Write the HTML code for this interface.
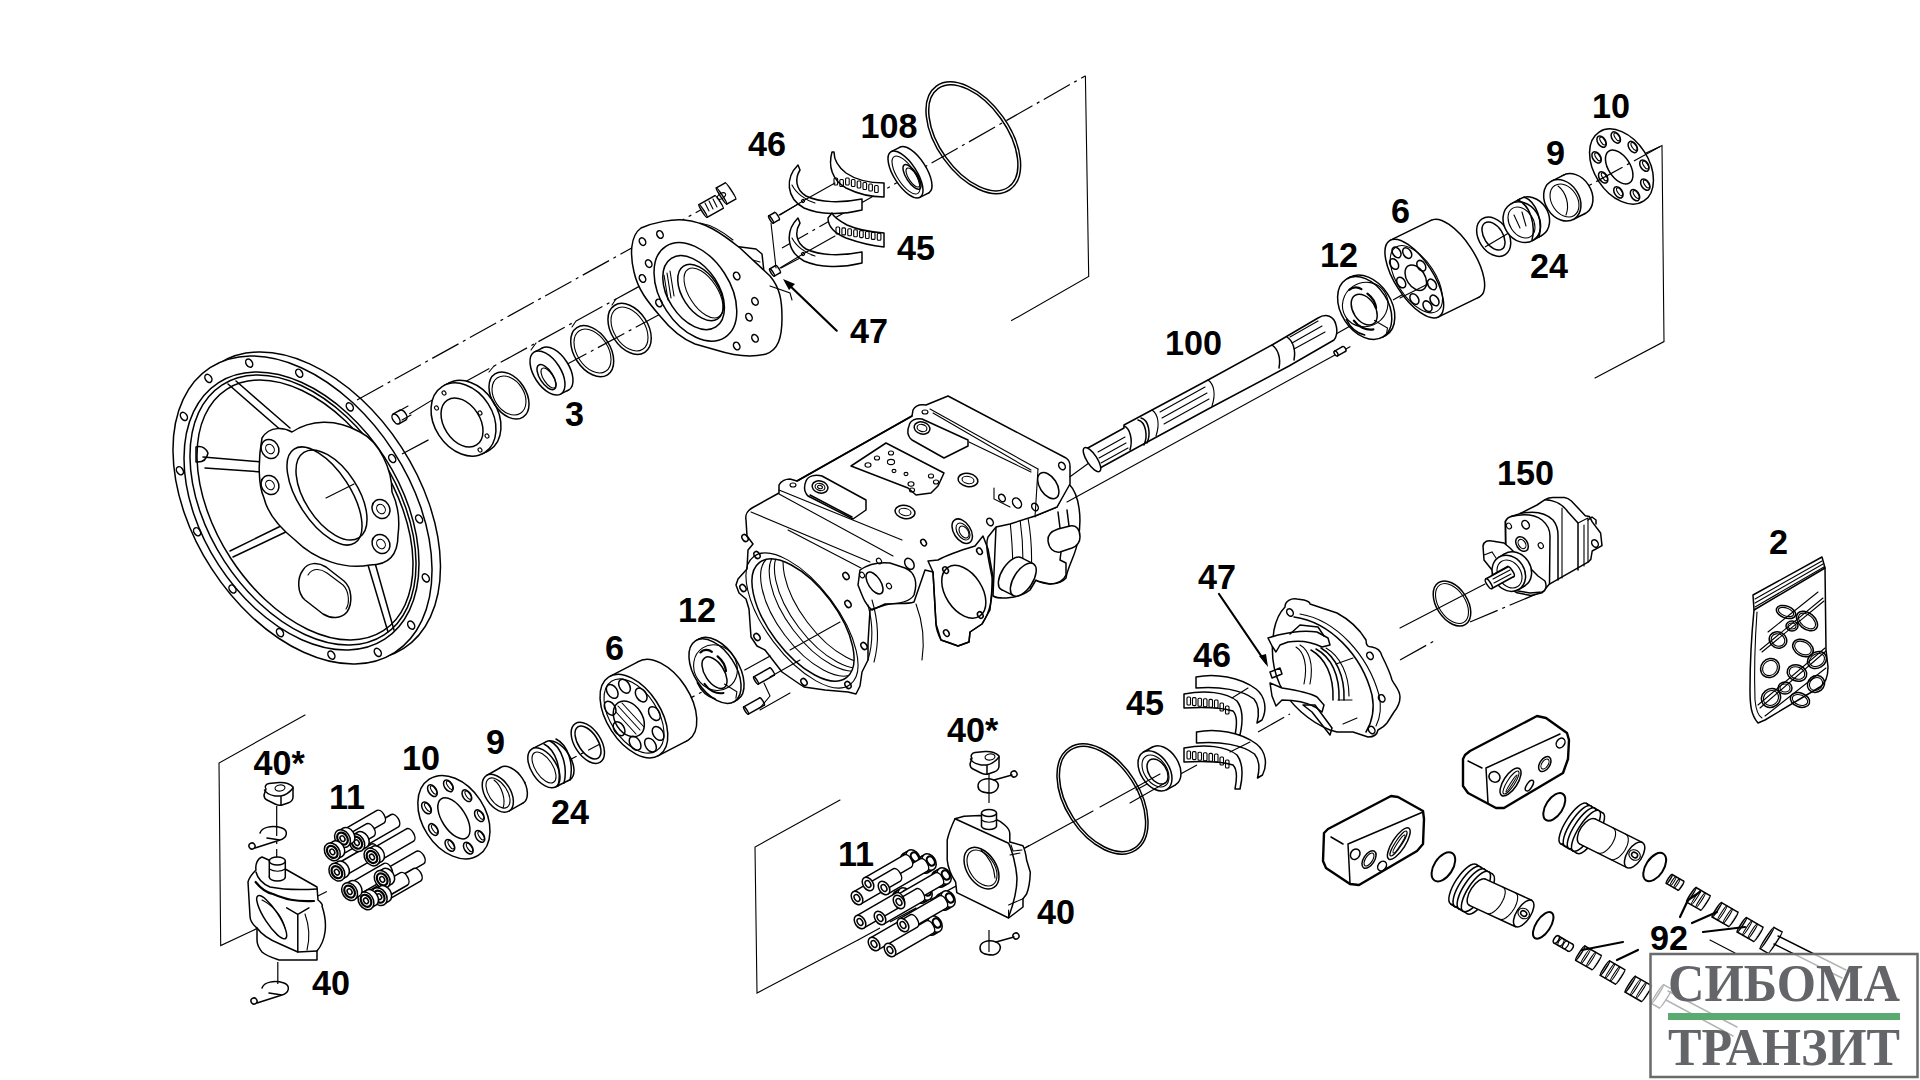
<!DOCTYPE html>
<html><head><meta charset="utf-8"><style>
html,body{margin:0;padding:0;background:#fff;width:1920px;height:1080px;overflow:hidden}
svg{display:block}
.l{font-family:"Liberation Sans",sans-serif;font-weight:bold;font-size:35px;fill:#000}
.s{fill:none;stroke:#000;stroke-width:1.5;stroke-linejoin:round;stroke-linecap:round}
.t{fill:none;stroke:#000;stroke-width:1.1;stroke-linecap:round}
.k{fill:none;stroke:#000;stroke-width:2.2;stroke-linecap:round;stroke-linejoin:round}
.d{fill:none;stroke:#000;stroke-width:1.2;stroke-dasharray:30 5 3 5}
.w{fill:#fff;stroke:#000;stroke-width:1.5;stroke-linejoin:round}
.f{fill:#000;stroke:none}
</style></head><body>
<svg width="1920" height="1080" viewBox="0 0 1920 1080">
<ellipse class="w" cx="311.2" cy="506.0" rx="169.8" ry="107.7" transform="rotate(57.0 311.2 506.0)" />
<ellipse class="w" cx="302.5" cy="510.0" rx="169.7" ry="108.2" transform="rotate(57.0 302.5 510.0)" />
<ellipse class="s" cx="377.8" cy="652.4" rx="4.4" ry="3.1" transform="rotate(57.0 377.8 652.4)" />
<ellipse class="s" cx="331.4" cy="655.1" rx="4.4" ry="3.1" transform="rotate(57.0 331.4 655.1)" />
<ellipse class="s" cx="280.0" cy="632.6" rx="4.4" ry="3.1" transform="rotate(57.0 280.0 632.6)" />
<ellipse class="s" cx="232.5" cy="589.0" rx="4.4" ry="3.1" transform="rotate(57.0 232.5 589.0)" />
<ellipse class="s" cx="197.1" cy="531.7" rx="4.4" ry="3.1" transform="rotate(57.0 197.1 531.7)" />
<ellipse class="s" cx="179.9" cy="470.7" rx="4.4" ry="3.1" transform="rotate(57.0 179.9 470.7)" />
<ellipse class="s" cx="183.9" cy="416.4" rx="4.4" ry="3.1" transform="rotate(57.0 183.9 416.4)" />
<ellipse class="s" cx="208.4" cy="378.4" rx="4.4" ry="3.1" transform="rotate(57.0 208.4 378.4)" />
<ellipse class="s" cx="249.2" cy="363.1" rx="4.4" ry="3.1" transform="rotate(57.0 249.2 363.1)" />
<ellipse class="s" cx="299.2" cy="373.2" rx="4.4" ry="3.1" transform="rotate(57.0 299.2 373.2)" />
<ellipse class="s" cx="349.8" cy="406.9" rx="4.4" ry="3.1" transform="rotate(57.0 349.8 406.9)" />
<ellipse class="s" cx="392.2" cy="458.5" rx="4.4" ry="3.1" transform="rotate(57.0 392.2 458.5)" />
<ellipse class="s" cx="419.1" cy="519.0" rx="4.4" ry="3.1" transform="rotate(57.0 419.1 519.0)" />
<ellipse class="s" cx="425.8" cy="577.9" rx="4.4" ry="3.1" transform="rotate(57.0 425.8 577.9)" />
<ellipse class="s" cx="411.2" cy="625.1" rx="4.4" ry="3.1" transform="rotate(57.0 411.2 625.1)" />
<ellipse class="s" cx="301.5" cy="511.0" rx="152.8" ry="98.9" transform="rotate(57.0 301.5 511.0)" />
<ellipse class="s" cx="303.0" cy="510.0" rx="149.0" ry="93.8" transform="rotate(57.0 303.0 510.0)" />
<ellipse class="s" cx="305.0" cy="510.0" rx="143.9" ry="88.6" transform="rotate(57.0 305.0 510.0)" />
<path class="s" d="M228,384 L283,432 M236,381 L290,428"/>
<path class="s" d="M203,457 L262,462 M205,468 L262,472"/>
<path class="s" d="M230,551 L287,523 M233,557 L290,530"/>
<path class="s" d="M368,565 L388,632 M375,563 L394,630"/>
<path class="s" d="M196,447 q8,-2 12,6 q-2,10 -12,9 z"/>
<path class="w" d="M262,438 C270,425 285,428 292,432 C310,420 335,418 360,432 C380,442 392,470 392,492 C398,505 400,520 398,535 C398,555 388,565 370,565 C345,570 315,560 295,540 C280,528 268,515 264,498 C258,485 258,460 262,438 Z"/>
<ellipse class="w" cx="270.0" cy="449.0" rx="10.0" ry="8.5" transform="rotate(57.0 270.0 449.0)" />
<ellipse class="t" cx="270.0" cy="449.0" rx="5.0" ry="4.0" transform="rotate(57.0 270.0 449.0)" />
<ellipse class="w" cx="270.0" cy="485.0" rx="10.0" ry="8.5" transform="rotate(57.0 270.0 485.0)" />
<ellipse class="t" cx="270.0" cy="485.0" rx="5.0" ry="4.0" transform="rotate(57.0 270.0 485.0)" />
<ellipse class="w" cx="381.0" cy="509.0" rx="10.0" ry="8.5" transform="rotate(57.0 381.0 509.0)" />
<ellipse class="t" cx="381.0" cy="509.0" rx="5.0" ry="4.0" transform="rotate(57.0 381.0 509.0)" />
<ellipse class="w" cx="381.0" cy="544.0" rx="10.0" ry="8.5" transform="rotate(57.0 381.0 544.0)" />
<ellipse class="t" cx="381.0" cy="544.0" rx="5.0" ry="4.0" transform="rotate(57.0 381.0 544.0)" />
<ellipse class="s" cx="324.5" cy="496.0" rx="55.9" ry="26.1" transform="rotate(57.0 324.5 496.0)" />
<ellipse class="s" cx="331.5" cy="495.0" rx="50.8" ry="26.5" transform="rotate(57.0 331.5 495.0)" />
<line class="t" x1="326" y1="498" x2="354" y2="484"/>
<path class="s" d="M303,570 C308,562 318,562 326,567 L344,581 C352,588 353,603 347,612 C341,619 331,619 323,614 L305,600 C297,593 297,578 303,570 Z"/>
<path class="t" d="M308,575 C312,568 320,568 327,573 L343,585 C349,591 350,603 346,609"/>
<path class="d" d="M357,400 L706,207"/>
<path class="d" d="M463,383 L680,264"/>
<path class="d" d="M402,454 L432,438 M560,368 L680,303.5 L706,289 M782,248 L1085,76"/>
<path class="t" d="M409.6,413.7 L444.8,392.4"/>
<path class="t" d="M489,372 L494,366 M531,350 L536,343 M572,327 L576,321 M612,305 L616,299"/>
<ellipse class="w" cx="468.5" cy="417.0" rx="39.2" ry="29.2" transform="rotate(57.0 468.5 417.0)" />
<polygon points="444.3,385.4 449.3,382.9 487.7,451.1 482.7,453.6" fill="#fff" stroke="none"/>
<path class="s" d="M444.3,385.4 L449.3,382.9 M482.7,453.6 L487.7,451.1"/>
<ellipse class="w" cx="463.5" cy="419.5" rx="39.2" ry="29.2" transform="rotate(57.0 463.5 419.5)" />
<ellipse class="s" cx="462.0" cy="422.5" rx="26.8" ry="18.0" transform="rotate(57.0 462.0 422.5)" />
<ellipse class="t" cx="444.0" cy="393.0" rx="2.2" ry="1.8" transform="rotate(57.0 444.0 393.0)" />
<ellipse class="t" cx="436.5" cy="408.0" rx="2.2" ry="1.8" transform="rotate(57.0 436.5 408.0)" />
<ellipse class="t" cx="480.0" cy="413.0" rx="2.2" ry="1.8" transform="rotate(57.0 480.0 413.0)" />
<ellipse class="t" cx="487.0" cy="436.0" rx="2.2" ry="1.8" transform="rotate(57.0 487.0 436.0)" />
<ellipse class="t" cx="480.0" cy="450.0" rx="2.2" ry="1.8" transform="rotate(57.0 480.0 450.0)" />
<ellipse class="w" cx="403.0" cy="415.0" rx="5.6" ry="3.1" transform="rotate(57.0 403.0 415.0)" />
<polygon points="393.0,414.2 400.0,410.2 406.0,419.8 399.0,423.8" fill="#fff" stroke="none"/>
<path class="s" d="M393.0,414.2 L400.0,410.2 M399.0,423.8 L406.0,419.8"/>
<ellipse class="w" cx="396.0" cy="419.0" rx="5.6" ry="3.1" transform="rotate(57.0 396.0 419.0)" />
<path class="t" d="M399,411 L408,406 M402,420 L411,415"/>
<ellipse class="s" cx="509.0" cy="395.5" rx="25.8" ry="17.0" transform="rotate(57.0 509.0 395.5)" />
<ellipse class="t" cx="509.0" cy="395.5" rx="21.1" ry="14.9" transform="rotate(57.0 509.0 395.5)" />
<ellipse class="w" cx="555.5" cy="369.0" rx="24.8" ry="13.3" transform="rotate(57.0 555.5 369.0)" />
<polygon points="534.7,351.8 542.7,347.8 568.3,390.2 560.3,394.2" fill="#fff" stroke="none"/>
<path class="s" d="M534.7,351.8 L542.7,347.8 M560.3,394.2 L568.3,390.2"/>
<ellipse class="w" cx="547.5" cy="373.0" rx="24.8" ry="13.3" transform="rotate(57.0 547.5 373.0)" />
<ellipse class="s" cx="546.5" cy="377.1" rx="14.3" ry="6.5" transform="rotate(57.0 546.5 377.1)" />
<ellipse class="t" cx="548.5" cy="378.0" rx="11.5" ry="4.9" transform="rotate(57.0 548.5 378.0)" />
<ellipse class="s" cx="592.2" cy="351.2" rx="28.1" ry="18.0" transform="rotate(57.0 592.2 351.2)" />
<ellipse class="t" cx="592.5" cy="351.0" rx="24.2" ry="15.5" transform="rotate(57.0 592.5 351.0)" />
<ellipse class="s" cx="629.6" cy="328.9" rx="27.9" ry="18.4" transform="rotate(57.0 629.6 328.9)" />
<ellipse class="t" cx="629.5" cy="329.0" rx="24.2" ry="15.5" transform="rotate(57.0 629.5 329.0)" />
<path class="w" d="M733,246 L756,249 L762,254 L764,272 L758,278 L745,270 Z"/>
<path class="t" d="M745,258 L760,262"/>
<path class="w" d="M641,228 C655,222 672,219 684,220 C705,222 720,232 740,248 L770,276 C780,288 782,300 782,318 C782,338 778,350 766,354 C750,358 735,356 716,350 L695,344 C680,338 668,326 660,316 C648,302 638,290 634,272 C630,255 630,236 641,228 Z"/>
<path class="t" d="M700,223 C712,225 722,231 733,240"/>
<path class="t" d="M770,286 L790,293 L792,300"/>
<ellipse class="s" cx="695.4" cy="291.8" rx="54.3" ry="34.5" transform="rotate(57.0 695.4 291.8)" />
<ellipse class="s" cx="693.6" cy="292.6" rx="40.9" ry="25.4" transform="rotate(57.0 693.6 292.6)" />
<ellipse class="s" cx="700.6" cy="292.5" rx="31.4" ry="18.1" transform="rotate(57.0 700.6 292.5)" />
<ellipse class="t" cx="703.5" cy="293.0" rx="28.3" ry="14.2" transform="rotate(57.0 703.5 293.0)" />
<ellipse class="s" cx="660.0" cy="234.5" rx="4.0" ry="3.0" transform="rotate(62.0 660.0 234.5)" />
<ellipse class="s" cx="642.5" cy="241.6" rx="4.0" ry="3.0" transform="rotate(62.0 642.5 241.6)" />
<ellipse class="s" cx="648.7" cy="263.6" rx="4.0" ry="3.0" transform="rotate(62.0 648.7 263.6)" />
<ellipse class="s" cx="642.5" cy="278.5" rx="4.0" ry="3.0" transform="rotate(62.0 642.5 278.5)" />
<ellipse class="s" cx="659.0" cy="303.0" rx="4.0" ry="3.0" transform="rotate(62.0 659.0 303.0)" />
<ellipse class="s" cx="736.7" cy="276.0" rx="4.0" ry="3.0" transform="rotate(62.0 736.7 276.0)" />
<ellipse class="s" cx="755.0" cy="301.4" rx="4.0" ry="3.0" transform="rotate(62.0 755.0 301.4)" />
<ellipse class="s" cx="749.0" cy="317.2" rx="4.0" ry="3.0" transform="rotate(62.0 749.0 317.2)" />
<ellipse class="s" cx="755.0" cy="338.3" rx="4.0" ry="3.0" transform="rotate(62.0 755.0 338.3)" />
<ellipse class="s" cx="736.7" cy="346.0" rx="4.0" ry="3.0" transform="rotate(62.0 736.7 346.0)" />
<path class="t" d="M664,275 L668,300 M667,273 L671,298 M670,271 L674,296"/>
<ellipse class="w" cx="719.0" cy="202.0" rx="7.5" ry="1.0" transform="rotate(57.0 719.0 202.0)" />
<polygon points="698.9,204.7 714.9,195.7 723.1,208.3 707.1,217.3" fill="#fff" stroke="none"/>
<path class="s" d="M698.9,204.7 L714.9,195.7 M707.1,217.3 L723.1,208.3"/>
<ellipse class="w" cx="703.0" cy="211.0" rx="7.5" ry="1.0" transform="rotate(57.0 703.0 211.0)" />
<path class="t" d="M705,203 l4,8 M709,201 l4,8 M713,199 l4,8"/>
<ellipse class="w" cx="730.5" cy="191.0" rx="9.6" ry="1.0" transform="rotate(57.0 730.5 191.0)" />
<polygon points="716.3,187.9 725.3,182.9 735.7,199.1 726.7,204.1" fill="#fff" stroke="none"/>
<path class="s" d="M716.3,187.9 L725.3,182.9 M726.7,204.1 L735.7,199.1"/>
<ellipse class="w" cx="721.5" cy="196.0" rx="9.6" ry="1.0" transform="rotate(57.0 721.5 196.0)" />
<ellipse class="t" cx="721.5" cy="196.0" rx="2.5" ry="4.5" transform="rotate(57.0 721.5 196.0)" />
<path class="k" d="M836.7,330.7 L786,282"/>
<path class="f" d="M783,279 L795,284 L789,290 Z"/>
<ellipse class="w" cx="777.0" cy="216.1" rx="4.3" ry="1.0" transform="rotate(57.0 777.0 216.1)" />
<polygon points="768.7,215.9 774.7,212.5 779.3,219.7 773.3,223.1" fill="#fff" stroke="none"/>
<path class="s" d="M768.7,215.9 L774.7,212.5 M773.3,223.1 L779.3,219.7"/>
<ellipse class="w" cx="771.0" cy="219.5" rx="4.3" ry="1.0" transform="rotate(57.0 771.0 219.5)" />
<ellipse class="w" cx="778.0" cy="269.1" rx="4.3" ry="1.0" transform="rotate(57.0 778.0 269.1)" />
<polygon points="769.7,268.9 775.7,265.5 780.3,272.7 774.3,276.1" fill="#fff" stroke="none"/>
<path class="s" d="M769.7,268.9 L775.7,265.5 M774.3,276.1 L780.3,272.7"/>
<ellipse class="w" cx="772.0" cy="272.5" rx="4.3" ry="1.0" transform="rotate(57.0 772.0 272.5)" />
<path class="t" d="M779,215 L800,203 M781,268 L800,258 M771,223 L776,268"/>
<path class="w" d="M798,165 C785,178 786,198 804,208 C820,215 842,215 862,210 L862,199 C842,203 820,203 806,196 C795,189 795,178 800,170 Z"/>
<path class="t" d="M792,185 C796,193 805,200 815,203"/>
<ellipse class="t" cx="803.0" cy="201.0" rx="1.5" ry="1.5" transform="rotate(57.0 803.0 201.0)" />
<path class="w" d="M832,152 C828,166 832,180 846,188 C860,195 874,197 884,197 L884,183 C870,183 856,180 846,173 C837,166 834,159 834,152 Z"/>
<rect class="t" x="834.0" y="178.0" width="3.6" height="7" rx="1"/>
<rect class="t" x="839.8" y="179.5" width="3.6" height="7" rx="1"/>
<rect class="t" x="845.6" y="178.0" width="3.6" height="7" rx="1"/>
<rect class="t" x="851.4" y="179.5" width="3.6" height="7" rx="1"/>
<rect class="t" x="857.2" y="181.0" width="3.6" height="7" rx="1"/>
<rect class="t" x="863.0" y="182.5" width="3.6" height="7" rx="1"/>
<rect class="t" x="868.8" y="184.0" width="3.6" height="7" rx="1"/>
<rect class="t" x="874.6" y="185.5" width="3.6" height="7" rx="1"/>
<path class="w" d="M798,218 C785,231 786,251 804,261 C820,268 842,268 862,263 L862,252 C842,256 820,256 806,249 C795,242 795,231 800,223 Z"/>
<path class="t" d="M792,238 C796,246 805,253 815,256"/>
<ellipse class="t" cx="803.0" cy="254.0" rx="1.5" ry="1.5" transform="rotate(57.0 803.0 254.0)" />
<path class="w" d="M828,218 C828,226 834,233 846,238 C860,243 874,246 884,247 L884,233 C870,232 856,229 847,225 C838,220 833,216 832,213 Z"/>
<rect class="t" x="836.0" y="227.0" width="3.6" height="7" rx="1"/>
<rect class="t" x="841.9" y="227.9" width="3.6" height="7" rx="1"/>
<rect class="t" x="847.8" y="228.8" width="3.6" height="7" rx="1"/>
<rect class="t" x="853.7" y="229.7" width="3.6" height="7" rx="1"/>
<rect class="t" x="859.6" y="230.6" width="3.6" height="7" rx="1"/>
<rect class="t" x="865.5" y="231.5" width="3.6" height="7" rx="1"/>
<rect class="t" x="871.4" y="232.4" width="3.6" height="7" rx="1"/>
<rect class="t" x="877.3" y="233.3" width="3.6" height="7" rx="1"/>
<path class="t" d="M780,215 L803,201 L835,183 M780,268 L803,254 L835,236"/>
<ellipse class="w" cx="914.5" cy="170.0" rx="27.0" ry="11.3" transform="rotate(57.0 914.5 170.0)" />
<polygon points="891.2,151.6 900.2,147.1 928.8,192.9 919.8,197.4" fill="#fff" stroke="none"/>
<path class="s" d="M891.2,151.6 L900.2,147.1 M919.8,197.4 L928.8,192.9"/>
<ellipse class="w" cx="905.5" cy="174.5" rx="27.0" ry="11.3" transform="rotate(57.0 905.5 174.5)" />
<ellipse class="t" cx="906.0" cy="175.0" rx="21.9" ry="8.7" transform="rotate(57.0 906.0 175.0)" />
<ellipse class="s" cx="912.0" cy="176.9" rx="14.2" ry="5.5" transform="rotate(57.0 912.0 176.9)" />
<ellipse class="t" cx="913.0" cy="177.5" rx="11.0" ry="4.3" transform="rotate(57.0 913.0 177.5)" />
<ellipse class="s" cx="973.3" cy="137.8" rx="63.5" ry="36.3" transform="rotate(54.4 973.3 137.8)" />
<ellipse class="s" cx="973.3" cy="137.8" rx="60.5" ry="33.6" transform="rotate(54.4 973.3 137.8)" />
<path class="t" d="M1085.4,76 L1088.7,276.5 L1011.5,320.6"/>
<path class="w" d="M996,527 C1000,522 1010,520 1035,516 L1057,507 L1069,484 C1080,495 1082,520 1078,540 C1076,555 1068,565 1066,578 C1060,585 1045,586 1036,580 L1030,590 C1020,598 1000,600 993,596 Z"/>
<path class="t" d="M1010,521 C1012,540 1014,560 1012,580 M1020,519 C1023,540 1024,560 1022,585 M1028,518 C1032,540 1033,560 1030,588"/>
<ellipse class="w" cx="1011.3" cy="573.6" rx="18.8" ry="9.4" transform="rotate(-57.0 1011.3 573.6)" />
<polygon points="1013.6,595.6 1001.6,589.6 1021.1,557.6 1033.1,563.6" fill="#fff" stroke="none"/>
<path class="s" d="M1013.6,595.6 L1001.6,589.6 M1033.1,563.6 L1021.1,557.6"/>
<ellipse class="w" cx="1023.3" cy="579.6" rx="18.8" ry="9.4" transform="rotate(-57.0 1023.3 579.6)" />
<path class="w" d="M1048,541 C1047,534 1052,531 1058,529 L1070,526 C1077,525 1080,530 1080,537 C1080,543 1077,546 1072,548 L1060,552 C1053,553 1049,548 1048,541 Z"/>
<path class="s" d="M1060,528 L1058,512 M1069,526 L1067,510 M1061,552 L1060,560 L1066,563 L1066,575 C1064,580 1058,584 1050,584 L1037,581"/>
<path class="w" d="M746,520 C745,514 747,511 752,508 L779,493 L779,485 C781,481 786,479 790,479 L797,481 L912,416 L913,410
C915,406 920,404 926,405 L948,396 L1066,458 C1069,460 1070,462 1070,466 L1070,484 L1057,507 L1035,516
L1010,524 L996,527 L988,537 C985,545 988,556 992,577 C993,600 990,612 982,624 L970,632 L969,642 L958,646
L950,643 L941,640 C938,634 936,628 936,624 L933,572 L925,570 L914,602 C905,605 897,602 885,605 L870,610
L868,643 L868,660 L862,672 L860,686 L856,694 L848,692 L825,690 L804,687 L798,683 L782,672 L765,650 L757,646
L751,637 L749,609 L746,599 L739,593 L736,585 L738,579 L747,569 L748,550 L753,544 L747,536 Z"/>
<path class="t" d="M751,512 L870,562 M779,490 L902,540 M779,494 L893,556"/>
<path class="s" d="M797,481 L912,416"/>
<path class="t" d="M930,409 L1038,469 M933,413 L1031,470 M969,442 L1031,472"/>
<path class="s" d="M851,466 L886,443 L944,473 L938,486 L931,493 L916,495 L908,488 Z"/>
<ellipse class="t" cx="868.0" cy="465.0" rx="3.0" ry="2.2" transform="rotate(0.0 868.0 465.0)" />
<ellipse class="t" cx="877.0" cy="458.0" rx="2.6" ry="2.0" transform="rotate(0.0 877.0 458.0)" />
<ellipse class="t" cx="891.0" cy="453.0" rx="2.6" ry="2.0" transform="rotate(0.0 891.0 453.0)" />
<ellipse class="t" cx="891.0" cy="462.0" rx="3.6" ry="2.6" transform="rotate(0.0 891.0 462.0)" />
<ellipse class="t" cx="894.0" cy="471.0" rx="2.0" ry="1.6" transform="rotate(0.0 894.0 471.0)" />
<ellipse class="t" cx="906.0" cy="474.0" rx="2.0" ry="1.6" transform="rotate(0.0 906.0 474.0)" />
<ellipse class="t" cx="911.0" cy="484.0" rx="3.0" ry="2.2" transform="rotate(0.0 911.0 484.0)" />
<ellipse class="t" cx="912.0" cy="490.0" rx="2.6" ry="2.0" transform="rotate(0.0 912.0 490.0)" />
<ellipse class="t" cx="931.0" cy="476.0" rx="2.6" ry="2.0" transform="rotate(0.0 931.0 476.0)" />
<ellipse class="t" cx="936.0" cy="482.0" rx="2.6" ry="2.0" transform="rotate(0.0 936.0 482.0)" />
<path class="s" d="M806,481 C808,476 815,474 822,476 L866,500 L866,510 L853,519 L808,496 C804,492 804,486 806,481 Z"/>
<path class="s" d="M810,495 L852,517"/>
<ellipse class="s" cx="820.0" cy="487.0" rx="8.0" ry="6.0" transform="rotate(15.0 820.0 487.0)" />
<ellipse class="t" cx="820.0" cy="487.0" rx="5.0" ry="3.5" transform="rotate(15.0 820.0 487.0)" />
<ellipse class="t" cx="820.0" cy="487.0" rx="2.5" ry="1.6" transform="rotate(15.0 820.0 487.0)" />
<path class="s" d="M909,426 C910,420 916,418 922,419 L968,440 L968,446 L944,458 L912,440 C907,436 907,430 909,426 Z"/>
<ellipse class="s" cx="922.0" cy="428.0" rx="8.0" ry="6.0" transform="rotate(15.0 922.0 428.0)" />
<ellipse class="t" cx="922.0" cy="428.0" rx="5.0" ry="3.5" transform="rotate(15.0 922.0 428.0)" />
<ellipse class="t" cx="793.0" cy="485.0" rx="3.0" ry="2.0" transform="rotate(0.0 793.0 485.0)" />
<ellipse class="t" cx="925.0" cy="412.0" rx="3.0" ry="2.0" transform="rotate(0.0 925.0 412.0)" />
<ellipse class="s" cx="968.0" cy="480.0" rx="10.0" ry="6.5" transform="rotate(10.0 968.0 480.0)" />
<ellipse class="t" cx="968.0" cy="480.0" rx="6.0" ry="3.5" transform="rotate(10.0 968.0 480.0)" />
<ellipse class="s" cx="905.0" cy="512.0" rx="10.0" ry="6.5" transform="rotate(10.0 905.0 512.0)" />
<ellipse class="t" cx="905.0" cy="512.0" rx="6.0" ry="3.5" transform="rotate(10.0 905.0 512.0)" />
<ellipse class="s" cx="1048.3" cy="485.6" rx="14.5" ry="8.5" transform="rotate(57.0 1048.3 485.6)" />
<ellipse class="s" cx="1062.0" cy="466.0" rx="4.0" ry="3.0" transform="rotate(57.0 1062.0 466.0)" />
<ellipse class="s" cx="1002.0" cy="498.0" rx="4.0" ry="3.0" transform="rotate(57.0 1002.0 498.0)" />
<ellipse class="s" cx="1017.0" cy="503.0" rx="5.5" ry="4.0" transform="rotate(57.0 1017.0 503.0)" />
<ellipse class="s" cx="1035.0" cy="507.0" rx="4.0" ry="3.0" transform="rotate(57.0 1035.0 507.0)" />
<ellipse class="s" cx="990.0" cy="522.0" rx="4.0" ry="3.0" transform="rotate(57.0 990.0 522.0)" />
<path class="t" d="M1038,469 L1035,517 M994,488 L994,499 L1010,507"/>
<ellipse class="s" cx="962.2" cy="531.2" rx="13.6" ry="8.4" transform="rotate(57.0 962.2 531.2)" />
<ellipse class="t" cx="963.0" cy="531.5" rx="9.4" ry="5.7" transform="rotate(57.0 963.0 531.5)" />
<ellipse class="t" cx="964.0" cy="532.0" rx="6.6" ry="4.1" transform="rotate(57.0 964.0 532.0)" />
<path class="s" d="M860,570 C870,563 880,562 890,563 L905,568 C915,572 918,582 914,595 C910,602 900,604 885,604 L872,610 C865,605 862,595 858,585 Z"/>
<ellipse class="s" cx="874.5" cy="583.0" rx="12.5" ry="6.1" transform="rotate(57.0 874.5 583.0)" />
<ellipse class="t" cx="862.0" cy="575.0" rx="3.0" ry="2.3" transform="rotate(57.0 862.0 575.0)" />
<ellipse class="t" cx="889.0" cy="586.0" rx="3.0" ry="2.3" transform="rotate(57.0 889.0 586.0)" />
<ellipse class="t" cx="879.0" cy="561.0" rx="3.0" ry="2.3" transform="rotate(57.0 879.0 561.0)" />
<path class="s" d="M928,561 L938,560 C945,556 955,552 975,546 L983,536 L988,549 L993,577 L990,610 L982,624 L970,632 L969,642 L958,646 L941,640 L936,624 L933,572 Z"/>
<ellipse class="s" cx="963.8" cy="591.8" rx="29.1" ry="18.3" transform="rotate(57.0 963.8 591.8)" />
<ellipse class="s" cx="945.6" cy="570.1" rx="3.5" ry="2.5" transform="rotate(57.0 945.6 570.1)" />
<ellipse class="s" cx="979.5" cy="551.2" rx="3.5" ry="2.5" transform="rotate(57.0 979.5 551.2)" />
<ellipse class="s" cx="980.3" cy="615.0" rx="3.5" ry="2.5" transform="rotate(57.0 980.3 615.0)" />
<ellipse class="s" cx="946.4" cy="633.1" rx="3.5" ry="2.5" transform="rotate(57.0 946.4 633.1)" />
<ellipse class="s" cx="923.6" cy="542.6" rx="3.5" ry="2.5" transform="rotate(57.0 923.6 542.6)" />
<ellipse class="s" cx="909.4" cy="563.8" rx="6.0" ry="4.2" transform="rotate(57.0 909.4 563.8)" />
<clipPath id="cb"><ellipse cx="803.0" cy="620.0" rx="72.1" ry="33.6" transform="rotate(53 803.0 620.0)"/></clipPath>
<g clip-path="url(#cb)">
<ellipse class="t" cx="811.7" cy="615.0" rx="72.1" ry="33.6" transform="rotate(53.0 811.7 615.0)" />
<ellipse class="t" cx="820.3" cy="610.0" rx="72.1" ry="33.6" transform="rotate(53.0 820.3 610.0)" />
<ellipse class="t" cx="825.5" cy="607.0" rx="72.1" ry="33.6" transform="rotate(53.0 825.5 607.0)" />
<ellipse class="t" cx="834.2" cy="602.0" rx="72.1" ry="33.6" transform="rotate(53.0 834.2 602.0)" />
</g>
<ellipse class="s" cx="803.0" cy="620.0" rx="72.1" ry="33.6" transform="rotate(53.0 803.0 620.0)" />
<ellipse class="t" cx="802.0" cy="620.5" rx="80.1" ry="35.6" transform="rotate(53.0 802.0 620.5)" />
<ellipse class="s" cx="757.0" cy="555.0" rx="3.8" ry="2.7" transform="rotate(57.0 757.0 555.0)" />
<ellipse class="s" cx="743.0" cy="588.0" rx="3.8" ry="2.7" transform="rotate(57.0 743.0 588.0)" />
<ellipse class="s" cx="757.0" cy="637.0" rx="3.8" ry="2.7" transform="rotate(57.0 757.0 637.0)" />
<ellipse class="s" cx="804.0" cy="682.0" rx="3.8" ry="2.7" transform="rotate(57.0 804.0 682.0)" />
<ellipse class="s" cx="848.0" cy="685.0" rx="3.8" ry="2.7" transform="rotate(57.0 848.0 685.0)" />
<ellipse class="s" cx="864.0" cy="646.0" rx="3.8" ry="2.7" transform="rotate(57.0 864.0 646.0)" />
<ellipse class="s" cx="848.0" cy="604.0" rx="3.8" ry="2.7" transform="rotate(57.0 848.0 604.0)" />
<ellipse class="s" cx="745.0" cy="538.0" rx="3.8" ry="2.7" transform="rotate(57.0 745.0 538.0)" />
<ellipse class="s" cx="846.0" cy="576.0" rx="3.8" ry="2.7" transform="rotate(57.0 846.0 576.0)" />
<path class="t" d="M868,605 C872,620 874,640 868,660 M872,600 C878,620 880,640 874,662"/>
<path class="t" d="M916,604 C922,620 925,640 922,660"/>
<path class="t" d="M788,530 L861,568"/>
<ellipse class="w" cx="772.0" cy="671.5" rx="4.3" ry="1.0" transform="rotate(57.0 772.0 671.5)" />
<polygon points="753.7,676.9 769.7,667.9 774.3,675.1 758.3,684.1" fill="#fff" stroke="none"/>
<path class="s" d="M753.7,676.9 L769.7,667.9 M758.3,684.1 L774.3,675.1"/>
<ellipse class="w" cx="756.0" cy="680.5" rx="4.3" ry="1.0" transform="rotate(57.0 756.0 680.5)" />
<ellipse class="w" cx="762.0" cy="701.5" rx="4.3" ry="1.0" transform="rotate(57.0 762.0 701.5)" />
<polygon points="743.7,706.9 759.7,697.9 764.3,705.1 748.3,714.1" fill="#fff" stroke="none"/>
<path class="s" d="M743.7,706.9 L759.7,697.9 M748.3,714.1 L764.3,705.1"/>
<ellipse class="w" cx="746.0" cy="710.5" rx="4.3" ry="1.0" transform="rotate(57.0 746.0 710.5)" />
<path class="t" d="M770,677 L800,660 M760,710 L790,693 M764,683 L770,696 L760,708"/>
<path class="t" d="M1067,502 L1350,346.7"/>
<path class="t" d="M1070,476.7 L1093,460"/>
<path class="d" d="M1336,334 L1380,309 M1393,300 L1470,256 M1485,247 L1590,185 L1662,145.6"/>
<path class="w" d="M1086,449 L1124,428 L1124,425 L1152,410 L1208,380 L1272,345 L1318,318 C1326,313 1334,316 1336,325 C1338,332 1336,338 1334,340 L1289,366 L1210,408 L1140,446 L1100,468"/>
<ellipse class="w" cx="1092.0" cy="459.6" rx="14.0" ry="5.1" transform="rotate(57.0 1092.0 459.6)" />
<path class="s" d="M1124,426 C1130,428 1133,440 1130,450 M1138,420 C1146,422 1148,436 1144,445 M1141,418 C1149,420 1151,434 1147,443"/>
<path class="t" d="M1152,410 C1158,414 1160,424 1156,436 M1208,380 C1214,384 1216,394 1212,406"/>
<path class="s" d="M1272,345 C1278,349 1281,358 1279,368 M1287,337 C1293,341 1296,350 1294,360"/>
<path class="t" d="M1098,452 L1125,437 M1099,458 L1126,443 M1101,463 L1128,448"/>
<path class="t" d="M1160,412 L1205,387 M1162,418 L1207,393 M1164,424 L1209,399"/>
<path class="t" d="M1290,337 L1318,321 M1292,343 L1322,326 M1294,349 L1325,332"/>
<ellipse class="w" cx="1344.0" cy="349.0" rx="2.8" ry="1.5" transform="rotate(57.0 1344.0 349.0)" />
<polygon points="1334.5,351.1 1342.5,346.6 1345.5,351.4 1337.5,355.9" fill="#fff" stroke="none"/>
<path class="s" d="M1334.5,351.1 L1342.5,346.6 M1337.5,355.9 L1345.5,351.4"/>
<ellipse class="w" cx="1336.0" cy="353.5" rx="2.8" ry="1.5" transform="rotate(57.0 1336.0 353.5)" />
<ellipse class="w" cx="1367.7" cy="306.4" rx="34.2" ry="23.5" transform="rotate(57.0 1367.7 306.4)" />
<polygon points="1347.3,278.6 1350.3,277.0 1385.1,335.8 1382.1,337.4" fill="#fff" stroke="none"/>
<path class="s" d="M1347.3,278.6 L1350.3,277.0 M1382.1,337.4 L1385.1,335.8"/>
<ellipse class="w" cx="1364.7" cy="308.0" rx="34.2" ry="23.5" transform="rotate(57.0 1364.7 308.0)" />
<ellipse class="t" cx="1365.2" cy="304.5" rx="21.9" ry="23.1" transform="rotate(57.0 1365.2 304.5)" />
<ellipse class="s" cx="1364.2" cy="309.6" rx="16.9" ry="11.0" transform="rotate(57.0 1364.2 309.6)" />
<path class="k" d="M1349.5,289.8 C1352.8,286.6 1358.2,286.6 1361.4,289.2"/>
<path class="k" d="M1367.4,293.6 C1372.3,297.3 1375.5,303.0 1376.1,308.0"/>
<path class="k" d="M1353.9,320.6 C1358.2,326.8 1365.8,330.6 1373.4,329.4"/>
<path class="s" d="M1346.3,319.3 C1350.6,328.1 1357.1,333.1 1364.7,335.0"/>
<path class="t" d="M1374.5,320.6 L1387.5,328.1 L1386.4,334.4"/>
<ellipse class="w" cx="1455.3" cy="258.6" rx="45.3" ry="18.9" transform="rotate(57.0 1455.3 258.6)" />
<polygon points="1390.5,240.2 1431.5,220.2 1479.1,297.1 1438.1,317.1" fill="#fff" stroke="none"/>
<path class="s" d="M1390.5,240.2 L1431.5,220.2 M1438.1,317.1 L1479.1,297.1"/>
<ellipse class="w" cx="1414.3" cy="278.6" rx="45.3" ry="18.9" transform="rotate(57.0 1414.3 278.6)" />
<ellipse class="t" cx="1416.4" cy="279.2" rx="38.1" ry="18.9" transform="rotate(57.0 1416.4 279.2)" />
<ellipse class="s" cx="1415.8" cy="277.7" rx="14.0" ry="9.1" transform="rotate(57.0 1415.8 277.7)" />
<ellipse class="s" cx="1427.5" cy="306.2" rx="5.8" ry="3.9" transform="rotate(57.0 1427.5 306.2)" />
<ellipse class="s" cx="1414.4" cy="299.1" rx="5.8" ry="3.9" transform="rotate(57.0 1414.4 299.1)" />
<ellipse class="s" cx="1401.2" cy="282.5" rx="5.8" ry="3.9" transform="rotate(57.0 1401.2 282.5)" />
<ellipse class="s" cx="1394.1" cy="264.0" rx="5.8" ry="3.9" transform="rotate(57.0 1394.1 264.0)" />
<ellipse class="s" cx="1396.5" cy="252.4" rx="5.8" ry="3.9" transform="rotate(57.0 1396.5 252.4)" />
<ellipse class="s" cx="1407.2" cy="253.1" rx="5.8" ry="3.9" transform="rotate(57.0 1407.2 253.1)" />
<ellipse class="s" cx="1421.3" cy="265.7" rx="5.8" ry="3.9" transform="rotate(57.0 1421.3 265.7)" />
<ellipse class="s" cx="1432.0" cy="284.4" rx="5.8" ry="3.9" transform="rotate(57.0 1432.0 284.4)" />
<ellipse class="s" cx="1434.5" cy="300.4" rx="5.8" ry="3.9" transform="rotate(57.0 1434.5 300.4)" />
<line class="t" x1="1400" y1="298" x2="1428" y2="284"/>
<ellipse class="s" cx="1493.7" cy="236.7" rx="21.3" ry="14.9" transform="rotate(57.0 1493.7 236.7)" />
<ellipse class="s" cx="1493.5" cy="236.0" rx="15.6" ry="9.3" transform="rotate(57.0 1493.5 236.0)" />
<ellipse class="w" cx="1530.8" cy="217.2" rx="21.3" ry="17.6" transform="rotate(57.0 1530.8 217.2)" />
<polygon points="1511.0,203.9 1520.0,198.9 1541.5,235.6 1532.5,240.6" fill="#fff" stroke="none"/>
<path class="s" d="M1511.0,203.9 L1520.0,198.9 M1532.5,240.6 L1541.5,235.6"/>
<ellipse class="w" cx="1521.8" cy="222.2" rx="21.3" ry="17.6" transform="rotate(57.0 1521.8 222.2)" />
<ellipse class="t" cx="1521.5" cy="222.5" rx="16.8" ry="11.8" transform="rotate(57.0 1521.5 222.5)" />
<path class="s" d="M1518,200 C1530,205 1536,225 1532,240 M1524,197 C1537,202 1543,222 1539,237"/>
<path class="t" d="M1514,215 L1520,228 M1522,212 L1526,226"/>
<ellipse class="w" cx="1574.3" cy="194.3" rx="22.1" ry="17.0" transform="rotate(57.0 1574.3 194.3)" />
<polygon points="1551.6,181.1 1563.6,175.1 1585.1,213.5 1573.1,219.5" fill="#fff" stroke="none"/>
<path class="s" d="M1551.6,181.1 L1563.6,175.1 M1573.1,219.5 L1585.1,213.5"/>
<ellipse class="w" cx="1562.3" cy="200.3" rx="22.1" ry="17.0" transform="rotate(57.0 1562.3 200.3)" />
<ellipse class="t" cx="1564.5" cy="200.5" rx="17.8" ry="12.8" transform="rotate(57.0 1564.5 200.5)" />
<path class="t" d="M1558,186 C1566,192 1570,205 1566,215"/>
<ellipse class="s" cx="1621.5" cy="166.5" rx="41.1" ry="27.2" transform="rotate(57.0 1621.5 166.5)" />
<ellipse class="s" cx="1619.2" cy="167.0" rx="19.0" ry="10.8" transform="rotate(57.0 1619.2 167.0)" />
<ellipse class="s" cx="1635.0" cy="195.1" rx="6.2" ry="3.9" transform="rotate(57.0 1635.0 195.1)" />
<ellipse class="t" cx="1636.2" cy="194.5" rx="4.5" ry="2.0" transform="rotate(57.0 1636.2 194.5)" />
<ellipse class="s" cx="1618.4" cy="192.3" rx="6.2" ry="3.9" transform="rotate(57.0 1618.4 192.3)" />
<ellipse class="t" cx="1619.6" cy="191.7" rx="4.5" ry="2.0" transform="rotate(57.0 1619.6 191.7)" />
<ellipse class="s" cx="1603.2" cy="177.4" rx="6.2" ry="3.9" transform="rotate(57.0 1603.2 177.4)" />
<ellipse class="t" cx="1604.4" cy="176.8" rx="4.5" ry="2.0" transform="rotate(57.0 1604.4 176.8)" />
<ellipse class="s" cx="1596.6" cy="157.4" rx="6.2" ry="3.9" transform="rotate(57.0 1596.6 157.4)" />
<ellipse class="t" cx="1597.8" cy="156.8" rx="4.5" ry="2.0" transform="rotate(57.0 1597.8 156.8)" />
<ellipse class="s" cx="1601.6" cy="141.6" rx="6.2" ry="3.9" transform="rotate(57.0 1601.6 141.6)" />
<ellipse class="t" cx="1602.8" cy="141.0" rx="4.5" ry="2.0" transform="rotate(57.0 1602.8 141.0)" />
<ellipse class="s" cx="1615.8" cy="137.5" rx="6.2" ry="3.9" transform="rotate(57.0 1615.8 137.5)" />
<ellipse class="t" cx="1617.0" cy="136.9" rx="4.5" ry="2.0" transform="rotate(57.0 1617.0 136.9)" />
<ellipse class="s" cx="1632.8" cy="147.0" rx="6.2" ry="3.9" transform="rotate(57.0 1632.8 147.0)" />
<ellipse class="t" cx="1634.0" cy="146.4" rx="4.5" ry="2.0" transform="rotate(57.0 1634.0 146.4)" />
<ellipse class="s" cx="1644.4" cy="165.6" rx="6.2" ry="3.9" transform="rotate(57.0 1644.4 165.6)" />
<ellipse class="t" cx="1645.6" cy="165.0" rx="4.5" ry="2.0" transform="rotate(57.0 1645.6 165.0)" />
<ellipse class="s" cx="1645.3" cy="184.6" rx="6.2" ry="3.9" transform="rotate(57.0 1645.3 184.6)" />
<ellipse class="t" cx="1646.5" cy="184.0" rx="4.5" ry="2.0" transform="rotate(57.0 1646.5 184.0)" />
<path class="t" d="M1646,153 L1662,145.6 L1664,341.6 L1595,378"/>
<path class="t" d="M1400,628 L1485,584"/>
<path class="d" d="M1400,660 L1434,641 M1470,622 L1546,590"/>
<path class="d" d="M1175,777 L1197,765 M1258,732 L1290,714"/>
<path class="t" d="M1136,790 L1160,777"/>
<ellipse class="s" cx="1102.5" cy="799.0" rx="61.0" ry="37.1" transform="rotate(57.0 1102.5 799.0)" />
<ellipse class="s" cx="1102.5" cy="799.0" rx="58.5" ry="34.6" transform="rotate(57.0 1102.5 799.0)" />
<ellipse class="w" cx="1164.0" cy="765.9" rx="22.1" ry="14.3" transform="rotate(57.0 1164.0 765.9)" />
<polygon points="1143.5,752.0 1152.5,747.0 1175.5,784.8 1166.5,789.8" fill="#fff" stroke="none"/>
<path class="s" d="M1143.5,752.0 L1152.5,747.0 M1166.5,789.8 L1175.5,784.8"/>
<ellipse class="w" cx="1155.0" cy="770.9" rx="22.1" ry="14.3" transform="rotate(57.0 1155.0 770.9)" />
<ellipse class="t" cx="1155.5" cy="771.0" rx="17.6" ry="11.3" transform="rotate(57.0 1155.5 771.0)" />
<ellipse class="s" cx="1157.5" cy="771.5" rx="13.8" ry="8.8" transform="rotate(57.0 1157.5 771.5)" />
<path class="t" d="M1130,803 L1165,783"/>
<path class="w" d="M1196,677 C1215,673 1240,677 1256,689 C1266,697 1267,710 1262,720 L1257,723 C1259,715 1259,705 1254,699 C1242,690 1220,686 1196,688 Z"/>
<path class="w" d="M1184,694 C1205,690 1226,692 1237,701 C1243,709 1243,722 1240,735 L1235,735 C1237,725 1237,715 1233,711 C1220,707 1202,707 1184,708 Z"/>
<rect class="t" x="1187.0" y="697.0" width="3.5" height="8" rx="1"/>
<rect class="t" x="1192.5" y="697.6" width="3.5" height="8" rx="1"/>
<rect class="t" x="1198.0" y="698.2" width="3.5" height="8" rx="1"/>
<rect class="t" x="1203.5" y="698.8" width="3.5" height="8" rx="1"/>
<rect class="t" x="1209.0" y="699.4" width="3.5" height="8" rx="1"/>
<rect class="t" x="1214.5" y="700.0" width="3.5" height="8" rx="1"/>
<rect class="t" x="1220.0" y="703.0" width="3.5" height="8" rx="1"/>
<rect class="t" x="1225.5" y="706.0" width="3.5" height="8" rx="1"/>
<path class="w" d="M1196.5,732 C1215.5,728 1240.5,732 1256.5,744 C1266.5,752 1267.5,765 1262.5,775 L1257.5,778 C1259.5,770 1259.5,760 1254.5,754 C1242.5,745 1220.5,741 1196.5,743 Z"/>
<path class="w" d="M1184,748 C1205,744 1226,746 1237,755 C1243,763 1243,776 1240,789 L1235,789 C1237,779 1237,769 1233,765 C1220,761 1202,761 1184,762 Z"/>
<rect class="t" x="1187.0" y="751.0" width="3.5" height="8" rx="1"/>
<rect class="t" x="1192.5" y="751.6" width="3.5" height="8" rx="1"/>
<rect class="t" x="1198.0" y="752.2" width="3.5" height="8" rx="1"/>
<rect class="t" x="1203.5" y="752.8" width="3.5" height="8" rx="1"/>
<rect class="t" x="1209.0" y="753.4" width="3.5" height="8" rx="1"/>
<rect class="t" x="1214.5" y="754.0" width="3.5" height="8" rx="1"/>
<rect class="t" x="1220.0" y="757.0" width="3.5" height="8" rx="1"/>
<rect class="t" x="1225.5" y="760.0" width="3.5" height="8" rx="1"/>
<path class="t" d="M1232,698 L1248,688 M1230,752 L1250,742"/>
<path class="w" d="M1285,607 C1285,601 1291,598 1297,599 L1304,600 C1308,601 1310,603 1310,604 L1337,613 C1350,620 1360,630 1366,640
C1366,646 1368,647 1372,647 C1378,648 1381,652 1382,656 C1386,664 1390,672 1392,680 C1395,686 1400,690 1400,697
C1400,703 1398,707 1394,712 L1387,723 C1384,727 1380,729 1378,730 C1377,735 1373,737 1368,737 L1353,732 L1337,732
L1330,730 C1310,722 1290,705 1280,685 C1272,668 1271,648 1274,630 C1276,620 1280,612 1285,607 Z"/>
<path class="s" d="M1294,617 C1330,622 1362,655 1372,695 C1375,710 1372,722 1366,732"/>
<path class="t" d="M1300,614 C1336,620 1368,655 1379,695 C1382,708 1380,718 1376,726"/>
<ellipse class="s" cx="1290.0" cy="612.5" rx="3.9" ry="3.0" transform="rotate(57.0 1290.0 612.5)" />
<ellipse class="s" cx="1370.0" cy="655.8" rx="3.9" ry="3.0" transform="rotate(57.0 1370.0 655.8)" />
<ellipse class="s" cx="1381.7" cy="698.3" rx="3.9" ry="3.0" transform="rotate(57.0 1381.7 698.3)" />
<ellipse class="s" cx="1371.7" cy="730.0" rx="3.9" ry="3.0" transform="rotate(57.0 1371.7 730.0)" />
<path class="w" d="M1268,638 L1278,635 C1290,632 1305,630 1317,632 L1328,638 L1330,645 L1322,647 C1312,642 1300,640 1288,642 L1280,645 L1276,652 L1272,646 Z"/>
<path class="s" d="M1290,634 L1300,625 L1318,627 L1324,636"/>
<path class="t" d="M1296,647 C1304,652 1308,665 1304,684 M1300,645 C1309,650 1314,664 1310,684"/>
<path class="s" d="M1311,650 C1325,658 1334,675 1333,700 M1316,649 C1331,657 1340,675 1339,700 M1321,648 C1336,657 1345,676 1344,700"/>
<path class="t" d="M1326,648 C1340,656 1349,674 1349,696"/>
<path class="w" d="M1270,683 L1282,688 C1295,690 1308,692 1317,697 L1324,705 L1322,712 L1315,707 C1306,702 1293,700 1282,700 L1276,706 L1272,696 Z"/>
<path class="s" d="M1303,705 L1315,705 L1332,728 L1330,735 L1312,712 Z"/>
<path class="t" d="M1336,664 L1353,658 M1338,700 L1352,700 M1343,724 L1357,718"/>
<path class="s" d="M1270,672 L1280,668 L1282,674 L1272,678 Z"/>
<path class="k" d="M1219,594 L1266,663"/>
<path class="f" d="M1268,667 L1259,656 L1266,654 Z"/>
<ellipse class="s" cx="1452.0" cy="603.5" rx="24.9" ry="15.5" transform="rotate(57.0 1452.0 603.5)" />
<ellipse class="t" cx="1452.0" cy="603.5" rx="22.2" ry="13.4" transform="rotate(57.0 1452.0 603.5)" />
<path class="w" d="M1505.4,521.3 C1507,518 1509,517 1511,516.5 L1520,513.6 L1537,505 L1545,499.7 C1548,498 1551,497.6 1553,497.6 L1564.4,497.6 C1567,498 1569,499 1571.4,501 L1585.3,515.7 L1589.4,516.4 L1592.2,521.9 L1600.6,533 L1602,545.6 L1592.2,551 L1590.8,559.4 L1588,562.2 L1549,584.4 L1542,592.8 L1531,595.6 L1517,592.8 L1506,586 Z"/>
<path class="s" d="M1505.4,521.3 L1506,568 M1511,516.5 C1522,514 1534,514 1542,520 C1548,525 1550,530 1550,536 L1549.5,584"/>
<path class="s" d="M1520,513.6 C1532,511 1545,512 1553,520 C1557,525 1558,530 1558,535 L1558,580 M1545,499.7 C1556,500 1564,506 1568,512 L1578,523 L1578,570"/>
<path class="t" d="M1578,523 L1588,518 M1588,518 L1588,562 M1584,525 L1584,566 M1562,508 L1562,578"/>
<ellipse class="s" cx="1595.0" cy="543.5" rx="4.0" ry="3.0" transform="rotate(57.0 1595.0 543.5)" />
<ellipse class="t" cx="1508.9" cy="526.0" rx="3.0" ry="2.4" transform="rotate(57.0 1508.9 526.0)" />
<ellipse class="s" cx="1525.6" cy="524.7" rx="4.5" ry="3.4" transform="rotate(57.0 1525.6 524.7)" />
<ellipse class="t" cx="1540.8" cy="545.6" rx="3.0" ry="2.4" transform="rotate(57.0 1540.8 545.6)" />
<path class="s" d="M1588,520 L1592,517 L1596,520 L1596,524"/>
<path class="w" d="M1483,546 C1484,541 1488,540 1492,541 L1504,543 L1510,548 L1514,552 L1538,576 L1545,581 C1547,586 1546,591 1542,592 L1530,593 L1512,590 L1492,570 L1484,560 Z"/>
<path class="t" d="M1484,555 L1492,552 L1496,558"/>
<ellipse class="w" cx="1514.8" cy="569.8" rx="18.9" ry="15.8" transform="rotate(57.0 1514.8 569.8)" />
<polygon points="1499.0,557.2 1505.0,553.7 1524.6,586.0 1518.6,589.5" fill="#fff" stroke="none"/>
<path class="s" d="M1499.0,557.2 L1505.0,553.7 M1518.6,589.5 L1524.6,586.0"/>
<ellipse class="w" cx="1508.8" cy="573.3" rx="18.9" ry="15.8" transform="rotate(57.0 1508.8 573.3)" />
<ellipse class="t" cx="1509.5" cy="574.0" rx="15.0" ry="11.3" transform="rotate(57.0 1509.5 574.0)" />
<ellipse class="w" cx="1522.0" cy="544.0" rx="8.0" ry="5.5" transform="rotate(57.0 1522.0 544.0)" />
<ellipse class="t" cx="1522.0" cy="544.0" rx="5.0" ry="3.4" transform="rotate(57.0 1522.0 544.0)" />
<ellipse class="w" cx="1510.8" cy="571.8" rx="5.7" ry="1.9" transform="rotate(57.0 1510.8 571.8)" />
<polygon points="1485.7,579.0 1507.7,567.0 1513.8,576.5 1491.8,588.5" fill="#fff" stroke="none"/>
<path class="s" d="M1485.7,579.0 L1507.7,567.0 M1491.8,588.5 L1513.8,576.5"/>
<ellipse class="w" cx="1488.8" cy="583.8" rx="5.7" ry="1.9" transform="rotate(57.0 1488.8 583.8)" />
<path class="t" d="M1492,575 L1508,566 M1493,579 L1510,570 M1494,583 L1511,574"/>
<path class="s" d="M1753,595 L1822,557 L1825,568 L1754,610 Z"/>
<path class="t" d="M1755,599 L1822,561 M1755,603 L1823,564 M1755,607 L1824,567"/>
<path class="s" d="M1754,610 C1752,630 1750,660 1750,690 C1750,705 1751,715 1758,723 L1765,720 L1820,687 C1826,683 1828,675 1828,667 L1826,650 L1825,568"/>
<path class="t" d="M1757,612 C1755,640 1754,670 1755,700 C1756,710 1758,716 1762,718"/>
<ellipse class="s" cx="1786.0" cy="612.0" rx="10.0" ry="6.0" transform="rotate(20.0 1786.0 612.0)" />
<ellipse class="t" cx="1786.0" cy="612.0" rx="8.0" ry="4.0" transform="rotate(20.0 1786.0 612.0)" />
<ellipse class="s" cx="1807.0" cy="621.0" rx="12.0" ry="8.0" transform="rotate(40.0 1807.0 621.0)" />
<ellipse class="t" cx="1807.0" cy="621.0" rx="10.0" ry="6.0" transform="rotate(40.0 1807.0 621.0)" />
<ellipse class="s" cx="1778.0" cy="640.0" rx="9.0" ry="8.0" transform="rotate(30.0 1778.0 640.0)" />
<ellipse class="t" cx="1778.0" cy="640.0" rx="7.0" ry="6.0" transform="rotate(30.0 1778.0 640.0)" />
<ellipse class="s" cx="1803.0" cy="648.0" rx="11.0" ry="8.0" transform="rotate(30.0 1803.0 648.0)" />
<ellipse class="t" cx="1803.0" cy="648.0" rx="9.0" ry="6.0" transform="rotate(30.0 1803.0 648.0)" />
<ellipse class="s" cx="1770.0" cy="668.0" rx="9.0" ry="10.0" transform="rotate(40.0 1770.0 668.0)" />
<ellipse class="t" cx="1770.0" cy="668.0" rx="7.0" ry="8.0" transform="rotate(40.0 1770.0 668.0)" />
<ellipse class="s" cx="1797.0" cy="673.0" rx="10.0" ry="8.0" transform="rotate(20.0 1797.0 673.0)" />
<ellipse class="t" cx="1797.0" cy="673.0" rx="8.0" ry="6.0" transform="rotate(20.0 1797.0 673.0)" />
<ellipse class="s" cx="1817.0" cy="660.0" rx="8.0" ry="10.0" transform="rotate(60.0 1817.0 660.0)" />
<ellipse class="t" cx="1817.0" cy="660.0" rx="6.0" ry="8.0" transform="rotate(60.0 1817.0 660.0)" />
<ellipse class="s" cx="1771.0" cy="698.0" rx="9.0" ry="10.0" transform="rotate(50.0 1771.0 698.0)" />
<ellipse class="t" cx="1771.0" cy="698.0" rx="7.0" ry="8.0" transform="rotate(50.0 1771.0 698.0)" />
<ellipse class="s" cx="1800.0" cy="700.0" rx="10.0" ry="7.0" transform="rotate(20.0 1800.0 700.0)" />
<ellipse class="t" cx="1800.0" cy="700.0" rx="8.0" ry="5.0" transform="rotate(20.0 1800.0 700.0)" />
<ellipse class="s" cx="1816.0" cy="684.0" rx="8.0" ry="9.0" transform="rotate(50.0 1816.0 684.0)" />
<ellipse class="t" cx="1816.0" cy="684.0" rx="6.0" ry="7.0" transform="rotate(50.0 1816.0 684.0)" />
<ellipse class="s" cx="1785.0" cy="688.0" rx="7.0" ry="6.0" transform="rotate(0.0 1785.0 688.0)" />
<ellipse class="t" cx="1785.0" cy="688.0" rx="5.0" ry="4.0" transform="rotate(0.0 1785.0 688.0)" />
<ellipse class="s" cx="1792.0" cy="626.0" rx="6.0" ry="5.0" transform="rotate(0.0 1792.0 626.0)" />
<ellipse class="t" cx="1792.0" cy="626.0" rx="4.0" ry="3.0" transform="rotate(0.0 1792.0 626.0)" />
<path class="t" d="M1760,650 L1823,598 M1758,705 L1825,648 M1765,716 L1826,668 M1768,632 L1818,592"/>
<path class="t" d="M1762,652 L1824,601 M1760,708 L1826,651"/>
<path class="t" d="M305,715 L219,763 L220.7,945.6 L254,930"/>
<path class="d" d="M254,930 L290,910 M300,905 L330,890"/>
<path class="d" d="M430,832 L468,812 M492,800 L530,780 M550,770 L600,744 M630,730 L700,693 L741,672 L772,655"/>
<path class="t" d="M790,650 L840,622"/>
<path class="w" d="M266,789 C264,787 266,784 269,783.5 L279,782.5 C285,782 291,784 293,787 L293,797 C293,800 291,802 288,803 L282,805 C279,806 277,805 275,804 L267,800 C265,799 264,797 264,795 Z"/>
<path class="s" d="M264.5,790 C266,793 270,795 275,796 L281,796 C286,795 290,792 293,788 M281,796 L281,805"/>
<ellipse class="t" cx="280.0" cy="788.0" rx="5.0" ry="3.0" transform="rotate(-10.0 280.0 788.0)" />
<path class="d" d="M276.7,806 L276.7,858"/>
<path class="d" d="M277.8,962 L277.8,984"/>
<path class="s" d="M260,833 C262,827 272,825 282,828 C289,831 287,838 280,840 L267,838 M280,840 L255,848"/>
<ellipse class="s" cx="252.0" cy="846.0" rx="3.0" ry="3.0" transform="rotate(57.0 252.0 846.0)" />
<path class="s" d="M262,988 C264,982 274,980 284,983 C291,986 289,993 282,995 L269,993 M282,995 L257,1003"/>
<ellipse class="s" cx="254.0" cy="1001.0" rx="3.0" ry="3.0" transform="rotate(57.0 254.0 1001.0)" />
<path class="w" d="M256,870 C255,864 258,858 262,857 L271,861 L287,870 L317,887 L318,900 C322,903 323,906 322,906 C325,915 326,925 325,932 C324,940 322,945 317,951 L317,960 L279,960 C270,957 265,955 262,952 C258,947 257,944 257,940 L257,928 C252,924 250,920 250,916 L248,882 C249,878 252,874 256,870 Z"/>
<path class="s" d="M256,872 C258,880 263,884 270,887 C285,890 300,890 317,889"/>
<path class="k" d="M255.6,882 C262,890 268,893 273,894 C285,899 295,902 314,901"/>
<path class="s" d="M286.7,907.8 L297.8,914.4 L308.9,907.8 M297.8,914.4 L297.8,952"/>
<path class="t" d="M305,914 C309,925 310,938 307,950"/>
<path class="s" d="M257,928 C262,935 270,940 280,944 L297.8,952 L317,951"/>
<ellipse class="s" cx="271.7" cy="917.2" rx="25.4" ry="6.9" transform="rotate(57.0 271.7 917.2)" />
<path class="t" d="M262,900 C272,905 282,915 285,928"/>
<ellipse class="w" cx="277.3" cy="877.0" rx="8.0" ry="4.0" transform="rotate(0.0 277.3 877.0)" />
<polygon points="285.3,861.0 285.3,877.0 269.3,877.0 269.3,861.0" fill="#fff" stroke="none"/>
<path class="s" d="M285.3,861.0 L285.3,877.0 M269.3,861.0 L269.3,877.0"/>
<ellipse class="w" cx="277.3" cy="861.0" rx="8.0" ry="4.0" transform="rotate(0.0 277.3 861.0)" />
<path class="t" d="M269.3,869 C274,872 281,872 285.3,869"/>
<path class="w" d="M360.4,848.9 L398.5,826.9 A7.2,4.32 60 0 0 391.3,814.5 L353.2,836.5 Z"/>
<path class="w" d="M346.1,844.8 L384.2,822.8 A7.2,4.32 60 0 0 377.0,810.4 L338.9,832.4 Z"/>
<path class="w" d="M375.6,863.2 L413.7,841.2 A7.2,4.32 60 0 0 406.5,828.8 L368.4,850.8 Z"/>
<path class="w" d="M385.8,885.6 L423.9,863.6 A7.2,4.32 60 0 0 416.7,851.2 L378.6,873.2 Z"/>
<path class="w" d="M335.9,858.1 L374.0,836.1 A7.2,4.32 60 0 0 366.8,823.7 L328.7,845.7 Z"/>
<path class="w" d="M340.5,878.4 L378.6,856.4 A7.2,4.32 60 0 0 371.4,844.0 L333.3,866.0 Z"/>
<path class="w" d="M382.8,902.9 L420.9,880.9 A7.2,4.32 60 0 0 413.7,868.5 L375.6,890.5 Z"/>
<path class="w" d="M369.6,907.0 L407.7,885.0 A7.2,4.32 60 0 0 400.5,872.6 L362.4,894.6 Z"/>
<path class="w" d="M353.2,897.8 L391.3,875.8 A7.2,4.32 60 0 0 384.1,863.4 L346.0,885.4 Z"/>
<ellipse class="w" cx="359.4" cy="841.2" rx="8.8" ry="6.5" transform="rotate(57.0 359.4 841.2)" />
<ellipse class="w" cx="362.0" cy="839.7" rx="8.8" ry="6.5" transform="rotate(57.0 362.0 839.7)" />
<ellipse class="w" cx="356.8" cy="842.7" rx="9.5" ry="7.2" transform="rotate(57.0 356.8 842.7)" />
<ellipse class="k" cx="356.8" cy="842.7" rx="6.5" ry="4.8" transform="rotate(57.0 356.8 842.7)" />
<ellipse class="s" cx="356.8" cy="842.7" rx="3.0" ry="2.2" transform="rotate(57.0 356.8 842.7)" />
<ellipse class="w" cx="345.1" cy="837.1" rx="8.8" ry="6.5" transform="rotate(57.0 345.1 837.1)" />
<ellipse class="w" cx="347.7" cy="835.6" rx="8.8" ry="6.5" transform="rotate(57.0 347.7 835.6)" />
<ellipse class="w" cx="342.5" cy="838.6" rx="9.5" ry="7.2" transform="rotate(57.0 342.5 838.6)" />
<ellipse class="k" cx="342.5" cy="838.6" rx="6.5" ry="4.8" transform="rotate(57.0 342.5 838.6)" />
<ellipse class="s" cx="342.5" cy="838.6" rx="3.0" ry="2.2" transform="rotate(57.0 342.5 838.6)" />
<ellipse class="w" cx="374.6" cy="855.5" rx="8.8" ry="6.5" transform="rotate(57.0 374.6 855.5)" />
<ellipse class="w" cx="377.2" cy="854.0" rx="8.8" ry="6.5" transform="rotate(57.0 377.2 854.0)" />
<ellipse class="w" cx="372.0" cy="857.0" rx="9.5" ry="7.2" transform="rotate(57.0 372.0 857.0)" />
<ellipse class="k" cx="372.0" cy="857.0" rx="6.5" ry="4.8" transform="rotate(57.0 372.0 857.0)" />
<ellipse class="s" cx="372.0" cy="857.0" rx="3.0" ry="2.2" transform="rotate(57.0 372.0 857.0)" />
<ellipse class="w" cx="384.8" cy="877.9" rx="8.8" ry="6.5" transform="rotate(57.0 384.8 877.9)" />
<ellipse class="w" cx="387.4" cy="876.4" rx="8.8" ry="6.5" transform="rotate(57.0 387.4 876.4)" />
<ellipse class="w" cx="382.2" cy="879.4" rx="9.5" ry="7.2" transform="rotate(57.0 382.2 879.4)" />
<ellipse class="k" cx="382.2" cy="879.4" rx="6.5" ry="4.8" transform="rotate(57.0 382.2 879.4)" />
<ellipse class="s" cx="382.2" cy="879.4" rx="3.0" ry="2.2" transform="rotate(57.0 382.2 879.4)" />
<ellipse class="w" cx="334.9" cy="850.4" rx="8.8" ry="6.5" transform="rotate(57.0 334.9 850.4)" />
<ellipse class="w" cx="337.5" cy="848.9" rx="8.8" ry="6.5" transform="rotate(57.0 337.5 848.9)" />
<ellipse class="w" cx="332.3" cy="851.9" rx="9.5" ry="7.2" transform="rotate(57.0 332.3 851.9)" />
<ellipse class="k" cx="332.3" cy="851.9" rx="6.5" ry="4.8" transform="rotate(57.0 332.3 851.9)" />
<ellipse class="s" cx="332.3" cy="851.9" rx="3.0" ry="2.2" transform="rotate(57.0 332.3 851.9)" />
<ellipse class="w" cx="339.5" cy="870.7" rx="8.8" ry="6.5" transform="rotate(57.0 339.5 870.7)" />
<ellipse class="w" cx="342.1" cy="869.2" rx="8.8" ry="6.5" transform="rotate(57.0 342.1 869.2)" />
<ellipse class="w" cx="336.9" cy="872.2" rx="9.5" ry="7.2" transform="rotate(57.0 336.9 872.2)" />
<ellipse class="k" cx="336.9" cy="872.2" rx="6.5" ry="4.8" transform="rotate(57.0 336.9 872.2)" />
<ellipse class="s" cx="336.9" cy="872.2" rx="3.0" ry="2.2" transform="rotate(57.0 336.9 872.2)" />
<ellipse class="w" cx="381.8" cy="895.2" rx="8.8" ry="6.5" transform="rotate(57.0 381.8 895.2)" />
<ellipse class="w" cx="384.4" cy="893.7" rx="8.8" ry="6.5" transform="rotate(57.0 384.4 893.7)" />
<ellipse class="w" cx="379.2" cy="896.7" rx="9.5" ry="7.2" transform="rotate(57.0 379.2 896.7)" />
<ellipse class="k" cx="379.2" cy="896.7" rx="6.5" ry="4.8" transform="rotate(57.0 379.2 896.7)" />
<ellipse class="s" cx="379.2" cy="896.7" rx="3.0" ry="2.2" transform="rotate(57.0 379.2 896.7)" />
<ellipse class="w" cx="368.6" cy="899.3" rx="8.8" ry="6.5" transform="rotate(57.0 368.6 899.3)" />
<ellipse class="w" cx="371.2" cy="897.8" rx="8.8" ry="6.5" transform="rotate(57.0 371.2 897.8)" />
<ellipse class="w" cx="366.0" cy="900.8" rx="9.5" ry="7.2" transform="rotate(57.0 366.0 900.8)" />
<ellipse class="k" cx="366.0" cy="900.8" rx="6.5" ry="4.8" transform="rotate(57.0 366.0 900.8)" />
<ellipse class="s" cx="366.0" cy="900.8" rx="3.0" ry="2.2" transform="rotate(57.0 366.0 900.8)" />
<ellipse class="w" cx="352.2" cy="890.1" rx="8.8" ry="6.5" transform="rotate(57.0 352.2 890.1)" />
<ellipse class="w" cx="354.8" cy="888.6" rx="8.8" ry="6.5" transform="rotate(57.0 354.8 888.6)" />
<ellipse class="w" cx="349.6" cy="891.6" rx="9.5" ry="7.2" transform="rotate(57.0 349.6 891.6)" />
<ellipse class="k" cx="349.6" cy="891.6" rx="6.5" ry="4.8" transform="rotate(57.0 349.6 891.6)" />
<ellipse class="s" cx="349.6" cy="891.6" rx="3.0" ry="2.2" transform="rotate(57.0 349.6 891.6)" />
<ellipse class="w" cx="453.9" cy="817.2" rx="45.3" ry="31.4" transform="rotate(57.0 453.9 817.2)" />
<ellipse class="s" cx="453.9" cy="818.3" rx="23.3" ry="11.8" transform="rotate(57.0 453.9 818.3)" />
<ellipse class="s" cx="468.3" cy="848.1" rx="6.5" ry="4.0" transform="rotate(57.0 468.3 848.1)" />
<ellipse class="t" cx="469.5" cy="847.5" rx="4.8" ry="2.0" transform="rotate(57.0 469.5 847.5)" />
<ellipse class="s" cx="449.9" cy="845.4" rx="6.5" ry="4.0" transform="rotate(57.0 449.9 845.4)" />
<ellipse class="t" cx="451.1" cy="844.8" rx="4.8" ry="2.0" transform="rotate(57.0 451.1 844.8)" />
<ellipse class="s" cx="433.4" cy="829.5" rx="6.5" ry="4.0" transform="rotate(57.0 433.4 829.5)" />
<ellipse class="t" cx="434.6" cy="828.9" rx="4.8" ry="2.0" transform="rotate(57.0 434.6 828.9)" />
<ellipse class="s" cx="426.5" cy="807.9" rx="6.5" ry="4.0" transform="rotate(57.0 426.5 807.9)" />
<ellipse class="t" cx="427.7" cy="807.3" rx="4.8" ry="2.0" transform="rotate(57.0 427.7 807.3)" />
<ellipse class="s" cx="432.4" cy="790.6" rx="6.5" ry="4.0" transform="rotate(57.0 432.4 790.6)" />
<ellipse class="t" cx="433.6" cy="790.0" rx="4.8" ry="2.0" transform="rotate(57.0 433.6 790.0)" />
<ellipse class="s" cx="448.4" cy="785.8" rx="6.5" ry="4.0" transform="rotate(57.0 448.4 785.8)" />
<ellipse class="t" cx="449.6" cy="785.2" rx="4.8" ry="2.0" transform="rotate(57.0 449.6 785.2)" />
<ellipse class="s" cx="466.9" cy="795.7" rx="6.5" ry="4.0" transform="rotate(57.0 466.9 795.7)" />
<ellipse class="t" cx="468.1" cy="795.1" rx="4.8" ry="2.0" transform="rotate(57.0 468.1 795.1)" />
<ellipse class="s" cx="479.4" cy="815.7" rx="6.5" ry="4.0" transform="rotate(57.0 479.4 815.7)" />
<ellipse class="t" cx="480.6" cy="815.1" rx="4.8" ry="2.0" transform="rotate(57.0 480.6 815.1)" />
<ellipse class="s" cx="479.9" cy="836.4" rx="6.5" ry="4.0" transform="rotate(57.0 479.9 836.4)" />
<ellipse class="t" cx="481.1" cy="835.8" rx="4.8" ry="2.0" transform="rotate(57.0 481.1 835.8)" />
<ellipse class="w" cx="511.8" cy="785.3" rx="21.0" ry="12.6" transform="rotate(57.0 511.8 785.3)" />
<polygon points="486.7,775.5 500.7,767.5 522.8,803.1 508.8,811.1" fill="#fff" stroke="none"/>
<path class="s" d="M486.7,775.5 L500.7,767.5 M508.8,811.1 L522.8,803.1"/>
<ellipse class="w" cx="497.8" cy="793.3" rx="21.0" ry="12.6" transform="rotate(57.0 497.8 793.3)" />
<ellipse class="t" cx="498.0" cy="793.0" rx="16.9" ry="9.2" transform="rotate(57.0 498.0 793.0)" />
<path class="t" d="M494,780 C502,786 506,800 503,808"/>
<ellipse class="w" cx="557.9" cy="760.8" rx="22.4" ry="12.5" transform="rotate(57.0 557.9 760.8)" />
<polygon points="532.4,748.6 546.4,741.6 569.4,780.0 555.4,787.0" fill="#fff" stroke="none"/>
<path class="s" d="M532.4,748.6 L546.4,741.6 M555.4,787.0 L569.4,780.0"/>
<ellipse class="w" cx="543.9" cy="767.8" rx="22.4" ry="12.5" transform="rotate(57.0 543.9 767.8)" />
<ellipse class="t" cx="544.0" cy="767.5" rx="17.6" ry="8.6" transform="rotate(57.0 544.0 767.5)" />
<path class="s" d="M544,744 C556,750 562,770 558,786 M550,741 C562,747 568,767 564,783 M556,739 C568,745 574,764 570,780"/>
<ellipse class="s" cx="587.8" cy="742.8" rx="23.0" ry="13.1" transform="rotate(57.0 587.8 742.8)" />
<ellipse class="s" cx="588.0" cy="742.5" rx="18.6" ry="9.7" transform="rotate(57.0 588.0 742.5)" />
<ellipse class="w" cx="662.9" cy="701.1" rx="46.6" ry="26.8" transform="rotate(57.0 662.9 701.1)" />
<polygon points="609.9,676.3 638.9,661.3 686.9,740.9 657.9,755.9" fill="#fff" stroke="none"/>
<path class="s" d="M609.9,676.3 L638.9,661.3 M657.9,755.9 L686.9,740.9"/>
<ellipse class="w" cx="633.9" cy="716.1" rx="46.6" ry="26.8" transform="rotate(57.0 633.9 716.1)" />
<ellipse class="t" cx="634.0" cy="716.0" rx="41.4" ry="23.6" transform="rotate(57.0 634.0 716.0)" />
<ellipse class="s" cx="628.8" cy="718.9" rx="19.4" ry="13.6" transform="rotate(57.0 628.8 718.9)" />
<path class="t" d="M618,706 L640,730 M622,703 L644,727 M616,712 L636,734"/>
<ellipse class="s" cx="650.5" cy="745.1" rx="7.6" ry="5.0" transform="rotate(57.0 650.5 745.1)" />
<ellipse class="s" cx="635.1" cy="743.3" rx="7.6" ry="5.0" transform="rotate(57.0 635.1 743.3)" />
<ellipse class="s" cx="619.1" cy="728.7" rx="7.6" ry="5.0" transform="rotate(57.0 619.1 728.7)" />
<ellipse class="s" cx="610.1" cy="708.2" rx="7.6" ry="5.0" transform="rotate(57.0 610.1 708.2)" />
<ellipse class="s" cx="612.2" cy="691.4" rx="7.6" ry="5.0" transform="rotate(57.0 612.2 691.4)" />
<ellipse class="s" cx="624.5" cy="686.2" rx="7.6" ry="5.0" transform="rotate(57.0 624.5 686.2)" />
<ellipse class="s" cx="641.2" cy="695.0" rx="7.6" ry="5.0" transform="rotate(57.0 641.2 695.0)" />
<ellipse class="s" cx="654.4" cy="713.6" rx="7.6" ry="5.0" transform="rotate(57.0 654.4 713.6)" />
<ellipse class="s" cx="658.1" cy="733.4" rx="7.6" ry="5.0" transform="rotate(57.0 658.1 733.4)" />
<ellipse class="w" cx="718.0" cy="669.5" rx="36.0" ry="20.5" transform="rotate(57.0 718.0 669.5)" />
<polygon points="696.3,640.4 699.3,638.8 736.7,700.2 733.7,701.8" fill="#fff" stroke="none"/>
<path class="s" d="M696.3,640.4 L699.3,638.8 M733.7,701.8 L736.7,700.2"/>
<ellipse class="w" cx="715.0" cy="671.1" rx="36.0" ry="20.5" transform="rotate(57.0 715.0 671.1)" />
<ellipse class="t" cx="715.5" cy="667.6" rx="23.5" ry="21.2" transform="rotate(57.0 715.5 667.6)" />
<ellipse class="s" cx="714.5" cy="672.7" rx="17.8" ry="9.5" transform="rotate(57.0 714.5 672.7)" />
<path class="k" d="M700.4,652.4 C703.5,649.2 708.7,649.2 711.9,651.8"/>
<path class="k" d="M717.6,656.3 C722.3,660.2 725.4,665.9 726.0,671.1"/>
<path class="k" d="M704.6,684.0 C708.7,690.4 716.0,694.3 723.4,693.0"/>
<path class="s" d="M697.3,682.7 C701.4,691.7 707.7,696.9 715.0,698.8"/>
<path class="t" d="M724.4,684.0 L736.9,691.7 L735.9,698.1"/>
<path class="t" d="M840,800 L755,847 L757,993 L858,940"/>
<path class="d" d="M858,940 L880,928 M890,922 L920,906 M930,900 L960,884 M1003,860 L1030,845"/>
<path class="t" d="M1025,848 L1093,811 M1100,807 L1160,774"/>
<path class="w" d="M972,758 C970,756 972,753 975,752.5 L985,751.5 C991,751 997,753 999,756 L999,766 C999,769 997,771 994,772 L988,774 C985,775 983,774 981,773 L973,769 C971,768 970,766 970,764 Z"/>
<path class="s" d="M970.5,759 C972,762 976,764 981,765 L987,765 C992,764 996,761 999,757 M987,765 L987,774"/>
<ellipse class="t" cx="990.0" cy="757.0" rx="5.0" ry="3.0" transform="rotate(-10.0 990.0 757.0)" />
<path class="d" d="M989,773 L989,808"/>
<path class="d" d="M989,930 L989,952"/>
<path class="s" d="M978,786 C978,780 986,777 994,780 C1001,783 999,791 991,793 C984,793 978,791 978,786 Z"/>
<path class="s" d="M994,780 L1012,775"/>
<ellipse class="s" cx="1014.0" cy="774.0" rx="3.0" ry="3.0" transform="rotate(57.0 1014.0 774.0)" />
<path class="s" d="M980,948 C980,942 988,939 996,942 C1003,945 1001,953 993,955 C986,955 980,953 980,948 Z"/>
<path class="s" d="M996,942 L1014,937"/>
<ellipse class="s" cx="1016.0" cy="936.0" rx="3.0" ry="3.0" transform="rotate(57.0 1016.0 936.0)" />
<path class="w" d="M955,818.7 L964,816.2 L979.7,815.6 C990,816 1000,820 1005,825.3 C1008,828 1010,831 1009.8,834 L1009.8,842 L1023,845.7 C1025,850 1026,855 1026.6,860 L1030.3,872.2 C1030,882 1029,888 1026.6,894 L1023,898.7 L1023,907 L1008.6,918 L956.8,892.7 L955.6,882 C951,875 948,868 947.2,860 L947.2,840 C949,832 952,825 955,818.7 Z"/>
<path class="s" d="M955,818.7 L1008.6,843.3 M1008.6,843.3 C1012,850 1016,865 1017,878 C1017,890 1015,900 1008.6,917"/>
<path class="t" d="M1011,845 L1013,851 L1022,850 M1010,855 L1020,853"/>
<path class="t" d="M1008.6,905 L1023,898.7 M1008.6,910 L1008.6,918"/>
<ellipse class="s" cx="981.5" cy="868.2" rx="22.9" ry="14.6" transform="rotate(57.0 981.5 868.2)" />
<ellipse class="t" cx="982.0" cy="868.0" rx="19.9" ry="12.4" transform="rotate(57.0 982.0 868.0)" />
<path class="t" d="M981,850 C988,856 994,866 995,878"/>
<ellipse class="w" cx="989.0" cy="826.0" rx="7.5" ry="3.5" transform="rotate(0.0 989.0 826.0)" />
<polygon points="996.5,813.0 996.5,826.0 981.5,826.0 981.5,813.0" fill="#fff" stroke="none"/>
<path class="s" d="M996.5,813.0 L996.5,826.0 M981.5,813.0 L981.5,826.0"/>
<ellipse class="w" cx="989.0" cy="813.0" rx="7.5" ry="3.5" transform="rotate(0.0 989.0 813.0)" />
<path class="t" d="M981.5,820 C985,823 993,823 996.5,820"/>
<ellipse class="w" cx="923.8" cy="865.0" rx="8.8" ry="6.5" transform="rotate(57.0 923.8 865.0)" />
<ellipse class="w" cx="926.4" cy="863.5" rx="8.8" ry="6.5" transform="rotate(57.0 926.4 863.5)" />
<ellipse class="w" cx="929.0" cy="862.0" rx="8.8" ry="6.5" transform="rotate(57.0 929.0 862.0)" />
<ellipse class="k" cx="930.8" cy="861.0" rx="5.0" ry="3.6" transform="rotate(57.0 930.8 861.0)" />
<ellipse class="w" cx="907.8" cy="861.0" rx="8.8" ry="6.5" transform="rotate(57.0 907.8 861.0)" />
<ellipse class="w" cx="910.4" cy="859.5" rx="8.8" ry="6.5" transform="rotate(57.0 910.4 859.5)" />
<ellipse class="w" cx="913.0" cy="858.0" rx="8.8" ry="6.5" transform="rotate(57.0 913.0 858.0)" />
<ellipse class="k" cx="914.8" cy="857.0" rx="5.0" ry="3.6" transform="rotate(57.0 914.8 857.0)" />
<ellipse class="w" cx="938.8" cy="879.0" rx="8.8" ry="6.5" transform="rotate(57.0 938.8 879.0)" />
<ellipse class="w" cx="941.4" cy="877.5" rx="8.8" ry="6.5" transform="rotate(57.0 941.4 877.5)" />
<ellipse class="w" cx="944.0" cy="876.0" rx="8.8" ry="6.5" transform="rotate(57.0 944.0 876.0)" />
<ellipse class="k" cx="945.8" cy="875.0" rx="5.0" ry="3.6" transform="rotate(57.0 945.8 875.0)" />
<ellipse class="w" cx="896.8" cy="875.0" rx="8.8" ry="6.5" transform="rotate(57.0 896.8 875.0)" />
<ellipse class="w" cx="899.4" cy="873.5" rx="8.8" ry="6.5" transform="rotate(57.0 899.4 873.5)" />
<ellipse class="w" cx="902.0" cy="872.0" rx="8.8" ry="6.5" transform="rotate(57.0 902.0 872.0)" />
<ellipse class="k" cx="903.8" cy="871.0" rx="5.0" ry="3.6" transform="rotate(57.0 903.8 871.0)" />
<ellipse class="w" cx="942.8" cy="902.0" rx="8.8" ry="6.5" transform="rotate(57.0 942.8 902.0)" />
<ellipse class="w" cx="945.4" cy="900.5" rx="8.8" ry="6.5" transform="rotate(57.0 945.4 900.5)" />
<ellipse class="w" cx="948.0" cy="899.0" rx="8.8" ry="6.5" transform="rotate(57.0 948.0 899.0)" />
<ellipse class="k" cx="949.8" cy="898.0" rx="5.0" ry="3.6" transform="rotate(57.0 949.8 898.0)" />
<ellipse class="w" cx="919.8" cy="895.0" rx="8.8" ry="6.5" transform="rotate(57.0 919.8 895.0)" />
<ellipse class="w" cx="922.4" cy="893.5" rx="8.8" ry="6.5" transform="rotate(57.0 922.4 893.5)" />
<ellipse class="w" cx="925.0" cy="892.0" rx="8.8" ry="6.5" transform="rotate(57.0 925.0 892.0)" />
<ellipse class="k" cx="926.8" cy="891.0" rx="5.0" ry="3.6" transform="rotate(57.0 926.8 891.0)" />
<ellipse class="w" cx="899.8" cy="899.0" rx="8.8" ry="6.5" transform="rotate(57.0 899.8 899.0)" />
<ellipse class="w" cx="902.4" cy="897.5" rx="8.8" ry="6.5" transform="rotate(57.0 902.4 897.5)" />
<ellipse class="w" cx="905.0" cy="896.0" rx="8.8" ry="6.5" transform="rotate(57.0 905.0 896.0)" />
<ellipse class="k" cx="906.8" cy="895.0" rx="5.0" ry="3.6" transform="rotate(57.0 906.8 895.0)" />
<ellipse class="w" cx="929.8" cy="927.0" rx="8.8" ry="6.5" transform="rotate(57.0 929.8 927.0)" />
<ellipse class="w" cx="932.4" cy="925.5" rx="8.8" ry="6.5" transform="rotate(57.0 932.4 925.5)" />
<ellipse class="w" cx="935.0" cy="924.0" rx="8.8" ry="6.5" transform="rotate(57.0 935.0 924.0)" />
<ellipse class="k" cx="936.8" cy="923.0" rx="5.0" ry="3.6" transform="rotate(57.0 936.8 923.0)" />
<ellipse class="w" cx="913.8" cy="921.0" rx="8.8" ry="6.5" transform="rotate(57.0 913.8 921.0)" />
<ellipse class="w" cx="916.4" cy="919.5" rx="8.8" ry="6.5" transform="rotate(57.0 916.4 919.5)" />
<ellipse class="w" cx="919.0" cy="918.0" rx="8.8" ry="6.5" transform="rotate(57.0 919.0 918.0)" />
<ellipse class="k" cx="920.8" cy="917.0" rx="5.0" ry="3.6" transform="rotate(57.0 920.8 917.0)" />
<path class="w" d="M887.6,894.2 L927.4,871.2 A7.2,4.32 60 0 0 920.2,858.8 L880.4,881.8 Z"/>
<path class="w" d="M871.6,890.2 L911.4,867.2 A7.2,4.32 60 0 0 904.2,854.8 L864.4,877.8 Z"/>
<path class="w" d="M902.6,908.2 L942.4,885.2 A7.2,4.32 60 0 0 935.2,872.8 L895.4,895.8 Z"/>
<path class="w" d="M860.6,904.2 L900.4,881.2 A7.2,4.32 60 0 0 893.2,868.8 L853.4,891.8 Z"/>
<path class="w" d="M906.6,931.2 L946.4,908.2 A7.2,4.32 60 0 0 939.2,895.8 L899.4,918.8 Z"/>
<path class="w" d="M883.6,924.2 L923.4,901.2 A7.2,4.32 60 0 0 916.2,888.8 L876.4,911.8 Z"/>
<path class="w" d="M863.6,928.2 L903.4,905.2 A7.2,4.32 60 0 0 896.2,892.8 L856.4,915.8 Z"/>
<path class="w" d="M893.6,956.2 L933.4,933.2 A7.2,4.32 60 0 0 926.2,920.8 L886.4,943.8 Z"/>
<path class="w" d="M877.6,950.2 L917.4,927.2 A7.2,4.32 60 0 0 910.2,914.8 L870.4,937.8 Z"/>
<ellipse class="w" cx="884.0" cy="888.0" rx="7.4" ry="5.0" transform="rotate(57.0 884.0 888.0)" />
<ellipse class="s" cx="884.0" cy="888.0" rx="3.6" ry="2.5" transform="rotate(57.0 884.0 888.0)" />
<ellipse class="w" cx="868.0" cy="884.0" rx="7.4" ry="5.0" transform="rotate(57.0 868.0 884.0)" />
<ellipse class="s" cx="868.0" cy="884.0" rx="3.6" ry="2.5" transform="rotate(57.0 868.0 884.0)" />
<ellipse class="w" cx="899.0" cy="902.0" rx="7.4" ry="5.0" transform="rotate(57.0 899.0 902.0)" />
<ellipse class="s" cx="899.0" cy="902.0" rx="3.6" ry="2.5" transform="rotate(57.0 899.0 902.0)" />
<ellipse class="w" cx="857.0" cy="898.0" rx="7.4" ry="5.0" transform="rotate(57.0 857.0 898.0)" />
<ellipse class="s" cx="857.0" cy="898.0" rx="3.6" ry="2.5" transform="rotate(57.0 857.0 898.0)" />
<ellipse class="w" cx="903.0" cy="925.0" rx="7.4" ry="5.0" transform="rotate(57.0 903.0 925.0)" />
<ellipse class="s" cx="903.0" cy="925.0" rx="3.6" ry="2.5" transform="rotate(57.0 903.0 925.0)" />
<ellipse class="w" cx="880.0" cy="918.0" rx="7.4" ry="5.0" transform="rotate(57.0 880.0 918.0)" />
<ellipse class="s" cx="880.0" cy="918.0" rx="3.6" ry="2.5" transform="rotate(57.0 880.0 918.0)" />
<ellipse class="w" cx="860.0" cy="922.0" rx="7.4" ry="5.0" transform="rotate(57.0 860.0 922.0)" />
<ellipse class="s" cx="860.0" cy="922.0" rx="3.6" ry="2.5" transform="rotate(57.0 860.0 922.0)" />
<ellipse class="w" cx="890.0" cy="950.0" rx="7.4" ry="5.0" transform="rotate(57.0 890.0 950.0)" />
<ellipse class="s" cx="890.0" cy="950.0" rx="3.6" ry="2.5" transform="rotate(57.0 890.0 950.0)" />
<ellipse class="w" cx="874.0" cy="944.0" rx="7.4" ry="5.0" transform="rotate(57.0 874.0 944.0)" />
<ellipse class="s" cx="874.0" cy="944.0" rx="3.6" ry="2.5" transform="rotate(57.0 874.0 944.0)" />
<path class="w" style="stroke-width:2.4" d="M1463,759 L1465,755 L1470,751 L1537,716 L1546,718 L1567,733 L1569,740 L1568,759 L1563,773 L1504,808 L1496,808 L1468,793 L1463,786 Z"/>
<path class="s" d="M1468,761 L1482,768 M1486,768 L1560,734 M1486,768 L1488,803"/>
<ellipse class="s" cx="1510.5" cy="782.0" rx="16.1" ry="6.9" transform="rotate(-57.0 1510.5 782.0)" />
<ellipse class="t" cx="1511.0" cy="782.5" rx="13.5" ry="3.8" transform="rotate(-57.0 1511.0 782.5)" />
<ellipse class="t" cx="1511.5" cy="783.5" rx="10.1" ry="1.0" transform="rotate(-57.0 1511.5 783.5)" />
<ellipse class="s" cx="1494.5" cy="776.9" rx="5.1" ry="5.7" transform="rotate(-57.0 1494.5 776.9)" />
<ellipse class="s" cx="1529.4" cy="785.6" rx="6.1" ry="2.7" transform="rotate(-57.0 1529.4 785.6)" />
<ellipse class="s" cx="1544.8" cy="764.1" rx="8.3" ry="5.0" transform="rotate(-57.0 1544.8 764.1)" />
<ellipse class="t" cx="1545.0" cy="764.0" rx="5.6" ry="3.1" transform="rotate(-57.0 1545.0 764.0)" />
<ellipse class="s" cx="1560.6" cy="743.0" rx="5.2" ry="4.0" transform="rotate(-57.0 1560.6 743.0)" />
<path class="w" style="stroke-width:2.4" d="M1324,833 L1328,829 L1391,796 L1398,797 L1423,811 L1424,819 L1423,844 L1417,851 L1359,885 L1350,884 L1326,868 L1323,861 Z"/>
<path class="s" d="M1331,837 L1343,844 M1348,844 L1423,812 M1348,844 L1350,883"/>
<ellipse class="s" cx="1398.8" cy="843.6" rx="18.4" ry="6.4" transform="rotate(-57.0 1398.8 843.6)" />
<ellipse class="t" cx="1398.5" cy="843.5" rx="14.7" ry="3.3" transform="rotate(-57.0 1398.5 843.5)" />
<ellipse class="t" cx="1399.0" cy="844.0" rx="10.7" ry="1.8" transform="rotate(-57.0 1399.0 844.0)" />
<ellipse class="s" cx="1355.2" cy="854.2" rx="5.5" ry="4.5" transform="rotate(-57.0 1355.2 854.2)" />
<ellipse class="s" cx="1369.0" cy="859.5" rx="9.9" ry="5.4" transform="rotate(-57.0 1369.0 859.5)" />
<ellipse class="t" cx="1369.0" cy="859.5" rx="7.4" ry="3.5" transform="rotate(-57.0 1369.0 859.5)" />
<ellipse class="s" cx="1382.1" cy="866.1" rx="5.2" ry="4.0" transform="rotate(-57.0 1382.1 866.1)" />
<ellipse class="s" style="stroke-width:2" cx="1554.3" cy="806.9" rx="15.5" ry="8.4" transform="rotate(-57.0 1554.3 806.9)" />
<ellipse class="s" style="stroke-width:2" cx="1654.7" cy="867.1" rx="15.9" ry="8.9" transform="rotate(-57.0 1654.7 867.1)" />
<ellipse class="s" style="stroke-width:2" cx="1443.4" cy="866.8" rx="16.3" ry="9.3" transform="rotate(-57.0 1443.4 866.8)" />
<ellipse class="s" style="stroke-width:2" cx="1543.2" cy="925.4" rx="15.2" ry="7.2" transform="rotate(-57.0 1543.2 925.4)" />
<ellipse class="w" cx="1577.5" cy="826.0" rx="23.9" ry="7.6" transform="rotate(-57.0 1577.5 826.0)" />
<polygon points="1586.5,803.4 1590.5,805.9 1564.5,846.1 1560.5,843.6" fill="#fff" stroke="none"/>
<path class="s" d="M1586.5,803.4 L1590.5,805.9 M1560.5,843.6 L1564.5,846.1"/>
<ellipse class="w" cx="1573.5" cy="823.5" rx="23.9" ry="7.6" transform="rotate(-57.0 1573.5 823.5)" />
<ellipse class="w" cx="1581.7" cy="828.4" rx="23.9" ry="7.6" transform="rotate(-57.0 1581.7 828.4)" />
<polygon points="1590.7,805.8 1594.7,808.3 1568.6,848.5 1564.6,846.0" fill="#fff" stroke="none"/>
<path class="s" d="M1590.7,805.8 L1594.7,808.3 M1564.6,846.0 L1568.6,848.5"/>
<ellipse class="w" cx="1577.7" cy="825.9" rx="23.9" ry="7.6" transform="rotate(-57.0 1577.7 825.9)" />
<ellipse class="w" cx="1585.8" cy="830.8" rx="23.9" ry="7.6" transform="rotate(-57.0 1585.8 830.8)" />
<polygon points="1594.8,808.2 1598.8,810.7 1572.8,850.9 1568.8,848.4" fill="#fff" stroke="none"/>
<path class="s" d="M1594.8,808.2 L1598.8,810.7 M1568.8,848.4 L1572.8,850.9"/>
<ellipse class="w" cx="1581.8" cy="828.3" rx="23.9" ry="7.6" transform="rotate(-57.0 1581.8 828.3)" />
<ellipse class="w" cx="1590.0" cy="833.2" rx="23.9" ry="7.6" transform="rotate(-57.0 1590.0 833.2)" />
<polygon points="1599.0,810.6 1603.0,813.1 1577.0,853.3 1573.0,850.8" fill="#fff" stroke="none"/>
<path class="s" d="M1599.0,810.6 L1603.0,813.1 M1573.0,850.8 L1577.0,853.3"/>
<ellipse class="w" cx="1586.0" cy="830.7" rx="23.9" ry="7.6" transform="rotate(-57.0 1586.0 830.7)" />
<ellipse class="w" cx="1587.5" cy="831.5" rx="14.7" ry="7.5" transform="rotate(-57.0 1587.5 831.5)" />
<polygon points="1627.0,867.6 1579.9,844.1 1595.1,818.9 1642.2,842.4" fill="#fff" stroke="none"/>
<path class="s" d="M1627.0,867.6 L1579.9,844.1 M1642.2,842.4 L1595.1,818.9"/>
<ellipse class="w" cx="1634.6" cy="855.0" rx="14.7" ry="7.5" transform="rotate(-57.0 1634.6 855.0)" />
<path class="t" d="M1610.5,859.3 L1612.0,859.7 L1613.7,859.7 L1615.5,859.1 L1617.5,858.0 L1619.5,856.6 L1621.4,854.7 L1623.3,852.5 L1624.9,850.2 L1626.2,847.6 L1627.3,845.1 L1628.0,842.6 L1628.3,840.3 L1628.2,838.2 L1627.8,836.5 L1626.9,835.1 L1625.7,834.2"/>
<path class="t" d="M1597.8,853.0 L1599.2,853.4 L1600.9,853.3 L1602.8,852.7 L1604.8,851.7 L1606.8,850.2 L1608.7,848.4 L1610.5,846.2 L1612.2,843.8 L1613.5,841.3 L1614.6,838.7 L1615.3,836.3 L1615.6,833.9 L1615.5,831.9 L1615.0,830.1 L1614.2,828.8 L1613.0,827.9"/>
<ellipse class="s" cx="1634.6" cy="855.0" rx="2.5" ry="3.2" transform="rotate(-57.0 1634.6 855.0)" />
<ellipse class="t" cx="1634.6" cy="855.0" rx="5.0" ry="6.0" transform="rotate(-57.0 1634.6 855.0)" />
<ellipse class="w" cx="1467.4" cy="886.8" rx="23.5" ry="8.3" transform="rotate(-57.0 1467.4 886.8)" />
<polygon points="1476.2,864.5 1480.2,867.0 1454.6,906.5 1450.6,904.0" fill="#fff" stroke="none"/>
<path class="s" d="M1476.2,864.5 L1480.2,867.0 M1450.6,904.0 L1454.6,906.5"/>
<ellipse class="w" cx="1463.4" cy="884.2" rx="23.5" ry="8.3" transform="rotate(-57.0 1463.4 884.2)" />
<ellipse class="w" cx="1471.6" cy="889.1" rx="23.5" ry="8.3" transform="rotate(-57.0 1471.6 889.1)" />
<polygon points="1480.3,866.9 1484.3,869.4 1458.8,908.9 1454.8,906.4" fill="#fff" stroke="none"/>
<path class="s" d="M1480.3,866.9 L1484.3,869.4 M1454.8,906.4 L1458.8,908.9"/>
<ellipse class="w" cx="1467.6" cy="886.6" rx="23.5" ry="8.3" transform="rotate(-57.0 1467.6 886.6)" />
<ellipse class="w" cx="1475.7" cy="891.5" rx="23.5" ry="8.3" transform="rotate(-57.0 1475.7 891.5)" />
<polygon points="1484.5,869.3 1488.5,871.8 1462.9,911.3 1458.9,908.8" fill="#fff" stroke="none"/>
<path class="s" d="M1484.5,869.3 L1488.5,871.8 M1458.9,908.8 L1462.9,911.3"/>
<ellipse class="w" cx="1471.7" cy="889.0" rx="23.5" ry="8.3" transform="rotate(-57.0 1471.7 889.0)" />
<ellipse class="w" cx="1479.9" cy="894.0" rx="23.5" ry="8.3" transform="rotate(-57.0 1479.9 894.0)" />
<polygon points="1488.6,871.7 1492.6,874.2 1467.1,913.7 1463.1,911.2" fill="#fff" stroke="none"/>
<path class="s" d="M1488.6,871.7 L1492.6,874.2 M1463.1,911.2 L1467.1,913.7"/>
<ellipse class="w" cx="1475.9" cy="891.5" rx="23.5" ry="8.3" transform="rotate(-57.0 1475.9 891.5)" />
<ellipse class="w" cx="1477.4" cy="892.2" rx="15.4" ry="7.0" transform="rotate(-57.0 1477.4 892.2)" />
<polygon points="1515.6,926.7 1469.4,905.4 1485.4,879.1 1531.7,900.3" fill="#fff" stroke="none"/>
<path class="s" d="M1515.6,926.7 L1469.4,905.4 M1531.7,900.3 L1485.4,879.1"/>
<ellipse class="w" cx="1523.7" cy="913.5" rx="15.4" ry="7.0" transform="rotate(-57.0 1523.7 913.5)" />
<path class="t" d="M1499.5,919.2 L1500.9,919.6 L1502.5,919.4 L1504.4,918.7 L1506.3,917.5 L1508.3,915.8 L1510.3,913.8 L1512.2,911.5 L1513.9,909.0 L1515.3,906.4 L1516.4,903.7 L1517.2,901.2 L1517.6,898.8 L1517.7,896.7 L1517.3,895.0 L1516.6,893.7 L1515.5,892.9"/>
<path class="t" d="M1487.0,913.5 L1488.4,913.8 L1490.0,913.6 L1491.9,912.9 L1493.8,911.7 L1495.8,910.1 L1497.8,908.1 L1499.7,905.8 L1501.4,903.3 L1502.8,900.6 L1504.0,898.0 L1504.7,895.4 L1505.2,893.1 L1505.2,891.0 L1504.8,889.3 L1504.1,888.0 L1503.0,887.1"/>
<ellipse class="s" cx="1523.7" cy="913.5" rx="2.5" ry="3.2" transform="rotate(-57.0 1523.7 913.5)" />
<ellipse class="t" cx="1523.7" cy="913.5" rx="5.0" ry="6.0" transform="rotate(-57.0 1523.7 913.5)" />
<ellipse class="w" cx="1680.8" cy="885.7" rx="5.3" ry="1.0" transform="rotate(-57.0 1680.8 885.7)" />
<polygon points="1672.1,874.5 1683.7,881.2 1677.9,890.1 1666.3,883.4" fill="#fff" stroke="none"/>
<path class="s" d="M1672.1,874.5 L1683.7,881.2 M1666.3,883.4 L1677.9,890.1"/>
<ellipse class="w" cx="1669.2" cy="879.0" rx="5.3" ry="1.0" transform="rotate(-57.0 1669.2 879.0)" />
<ellipse class="t" cx="1673.1" cy="881.2" rx="5.3" ry="1.0" transform="rotate(-57.0 1673.1 881.2)" />
<ellipse class="t" cx="1676.9" cy="883.4" rx="5.3" ry="1.0" transform="rotate(-57.0 1676.9 883.4)" />
<ellipse class="w" cx="1705.3" cy="902.9" rx="8.7" ry="1.0" transform="rotate(-57.0 1705.3 902.9)" />
<polygon points="1696.0,887.5 1710.0,895.6 1700.6,910.2 1686.6,902.1" fill="#fff" stroke="none"/>
<path class="s" d="M1696.0,887.5 L1710.0,895.6 M1686.6,902.1 L1700.6,910.2"/>
<ellipse class="w" cx="1691.3" cy="894.8" rx="8.7" ry="1.0" transform="rotate(-57.0 1691.3 894.8)" />
<ellipse class="t" cx="1696.0" cy="897.5" rx="8.7" ry="1.0" transform="rotate(-57.0 1696.0 897.5)" />
<ellipse class="t" cx="1700.6" cy="900.2" rx="8.7" ry="1.0" transform="rotate(-57.0 1700.6 900.2)" />
<ellipse class="w" cx="1733.2" cy="919.3" rx="8.6" ry="1.0" transform="rotate(-57.0 1733.2 919.3)" />
<polygon points="1721.5,902.6 1737.8,912.1 1728.5,926.4 1712.2,917.0" fill="#fff" stroke="none"/>
<path class="s" d="M1721.5,902.6 L1737.8,912.1 M1712.2,917.0 L1728.5,926.4"/>
<ellipse class="w" cx="1716.8" cy="909.8" rx="8.6" ry="1.0" transform="rotate(-57.0 1716.8 909.8)" />
<ellipse class="t" cx="1722.3" cy="913.0" rx="8.6" ry="1.0" transform="rotate(-57.0 1722.3 913.0)" />
<ellipse class="t" cx="1727.7" cy="916.1" rx="8.6" ry="1.0" transform="rotate(-57.0 1727.7 916.1)" />
<ellipse class="w" cx="1758.2" cy="934.3" rx="8.6" ry="1.0" transform="rotate(-57.0 1758.2 934.3)" />
<polygon points="1746.5,917.6 1762.8,927.1 1753.5,941.4 1737.2,932.0" fill="#fff" stroke="none"/>
<path class="s" d="M1746.5,917.6 L1762.8,927.1 M1737.2,932.0 L1753.5,941.4"/>
<ellipse class="w" cx="1741.8" cy="924.8" rx="8.6" ry="1.0" transform="rotate(-57.0 1741.8 924.8)" />
<ellipse class="t" cx="1747.3" cy="928.0" rx="8.6" ry="1.0" transform="rotate(-57.0 1747.3 928.0)" />
<ellipse class="t" cx="1752.7" cy="931.1" rx="8.6" ry="1.0" transform="rotate(-57.0 1752.7 931.1)" />
<ellipse class="w" cx="1570.3" cy="947.6" rx="4.2" ry="2.3" transform="rotate(-57.0 1570.3 947.6)" />
<polygon points="1558.5,936.0 1572.5,944.1 1568.1,951.2 1554.1,943.1" fill="#fff" stroke="none"/>
<path class="s" d="M1558.5,936.0 L1572.5,944.1 M1554.1,943.1 L1568.1,951.2"/>
<ellipse class="w" cx="1556.3" cy="939.5" rx="4.2" ry="2.3" transform="rotate(-57.0 1556.3 939.5)" />
<ellipse class="t" cx="1561.0" cy="942.2" rx="4.2" ry="2.3" transform="rotate(-57.0 1561.0 942.2)" />
<ellipse class="t" cx="1565.6" cy="944.9" rx="4.2" ry="2.3" transform="rotate(-57.0 1565.6 944.9)" />
<ellipse class="w" cx="1596.5" cy="962.5" rx="8.5" ry="1.0" transform="rotate(-57.0 1596.5 962.5)" />
<polygon points="1584.8,946.0 1601.1,955.4 1591.9,969.7 1575.6,960.3" fill="#fff" stroke="none"/>
<path class="s" d="M1584.8,946.0 L1601.1,955.4 M1575.6,960.3 L1591.9,969.7"/>
<ellipse class="w" cx="1580.2" cy="953.1" rx="8.5" ry="1.0" transform="rotate(-57.0 1580.2 953.1)" />
<ellipse class="t" cx="1585.6" cy="956.3" rx="8.5" ry="1.0" transform="rotate(-57.0 1585.6 956.3)" />
<ellipse class="t" cx="1591.1" cy="959.4" rx="8.5" ry="1.0" transform="rotate(-57.0 1591.1 959.4)" />
<ellipse class="w" cx="1620.1" cy="976.9" rx="8.6" ry="1.0" transform="rotate(-57.0 1620.1 976.9)" />
<polygon points="1609.6,960.9 1624.7,969.7 1615.4,984.1 1600.3,975.3" fill="#fff" stroke="none"/>
<path class="s" d="M1609.6,960.9 L1624.7,969.7 M1600.3,975.3 L1615.4,984.1"/>
<ellipse class="w" cx="1604.9" cy="968.1" rx="8.6" ry="1.0" transform="rotate(-57.0 1604.9 968.1)" />
<ellipse class="t" cx="1610.0" cy="971.0" rx="8.6" ry="1.0" transform="rotate(-57.0 1610.0 971.0)" />
<ellipse class="t" cx="1615.0" cy="974.0" rx="8.6" ry="1.0" transform="rotate(-57.0 1615.0 974.0)" />
<ellipse class="w" cx="1646.5" cy="993.6" rx="9.4" ry="1.0" transform="rotate(-57.0 1646.5 993.6)" />
<polygon points="1635.3,976.3 1651.6,985.7 1641.4,1001.5 1625.1,992.1" fill="#fff" stroke="none"/>
<path class="s" d="M1635.3,976.3 L1651.6,985.7 M1625.1,992.1 L1641.4,1001.5"/>
<ellipse class="w" cx="1630.2" cy="984.2" rx="9.4" ry="1.0" transform="rotate(-57.0 1630.2 984.2)" />
<ellipse class="t" cx="1635.6" cy="987.3" rx="9.4" ry="1.0" transform="rotate(-57.0 1635.6 987.3)" />
<ellipse class="t" cx="1641.1" cy="990.5" rx="9.4" ry="1.0" transform="rotate(-57.0 1641.1 990.5)" />
<ellipse class="w" cx="1775.0" cy="942.6" rx="12.7" ry="1.0" transform="rotate(-57.0 1775.0 942.6)" />
<polygon points="1773.9,927.3 1781.9,931.9 1768.1,953.3 1760.1,948.7" fill="#fff" stroke="none"/>
<path class="s" d="M1773.9,927.3 L1781.9,931.9 M1760.1,948.7 L1768.1,953.3"/>
<ellipse class="w" cx="1767.0" cy="938.0" rx="12.7" ry="1.0" transform="rotate(-57.0 1767.0 938.0)" />
<path class="s" d="M1774,944 L1842,978 M1778,936 L1846,970"/>
<path class="t" d="M1710,940 L1735,953"/>
<ellipse class="w" cx="1665.5" cy="998.6" rx="11.2" ry="1.0" transform="rotate(-57.0 1665.5 998.6)" />
<polygon points="1663.6,984.6 1671.6,989.2 1659.4,1008.0 1651.4,1003.4" fill="#fff" stroke="none"/>
<path class="s" d="M1663.6,984.6 L1671.6,989.2 M1651.4,1003.4 L1659.4,1008.0"/>
<ellipse class="w" cx="1657.5" cy="994.0" rx="11.2" ry="1.0" transform="rotate(-57.0 1657.5 994.0)" />
<path class="s" d="M1666,1000 L1733,1036 M1668,991 L1737,1027"/>
<path class="k" d="M1680,917 L1688,900 L1700,892 M1692,923 L1717,912 M1703,932 L1745,927 M1623,942 L1582,950 M1638,950 L1617,960"/>
<g class="l">
<text transform="translate(748.00,156.00) scale(0.977,1)">46</text>
<text transform="translate(860.50,138.00) scale(0.977,1)">108</text>
<text transform="translate(897.00,260.00) scale(0.977,1)">45</text>
<text transform="translate(850.00,343.00) scale(0.977,1)">47</text>
<text transform="translate(565.00,426.00) scale(0.977,1)">3</text>
<text transform="translate(1165.00,355.00) scale(0.977,1)">100</text>
<text transform="translate(1592.00,118.00) scale(0.977,1)">10</text>
<text transform="translate(1546.00,165.00) scale(0.977,1)">9</text>
<text transform="translate(1391.00,223.00) scale(0.977,1)">6</text>
<text transform="translate(1320.00,267.00) scale(0.977,1)">12</text>
<text transform="translate(1530.00,278.00) scale(0.977,1)">24</text>
<text transform="translate(1497.10,485.00) scale(0.977,1)">150</text>
<text transform="translate(1769.00,554.00) scale(0.977,1)">2</text>
<text transform="translate(1198.00,589.00) scale(0.977,1)">47</text>
<text transform="translate(678.00,622.00) scale(0.977,1)">12</text>
<text transform="translate(605.00,660.00) scale(0.977,1)">6</text>
<text transform="translate(1193.00,667.00) scale(0.977,1)">46</text>
<text transform="translate(1126.00,715.00) scale(0.977,1)">45</text>
<text transform="translate(947.00,742.00) scale(0.977,1)">40*</text>
<text transform="translate(253.40,775.40) scale(0.977,1)">40*</text>
<text transform="translate(402.00,770.00) scale(0.977,1)">10</text>
<text transform="translate(486.00,754.00) scale(0.977,1)">9</text>
<text transform="translate(329.00,809.00) scale(0.977,1)">11</text>
<text transform="translate(551.00,824.00) scale(0.977,1)">24</text>
<text transform="translate(838.00,866.00) scale(0.977,1)">11</text>
<text transform="translate(1037.00,924.00) scale(0.977,1)">40</text>
<text transform="translate(1650.00,950.00) scale(0.977,1)">92</text>
<text transform="translate(312.00,995.00) scale(0.977,1)">40</text>
</g>

<g>
<rect x="1650.5" y="954" width="267" height="123" fill="rgba(255,255,255,0.7)" stroke="#6a6a6a" stroke-width="2.5"/>
<text x="1784" y="1001" text-anchor="middle" font-family="Liberation Serif" font-weight="bold" font-size="52" fill="#646569" textLength="232" lengthAdjust="spacingAndGlyphs">СИБОМА</text>
<rect x="1668" y="1013" width="232" height="7" fill="#5aaa72"/>
<text x="1784" y="1065" text-anchor="middle" font-family="Liberation Serif" font-weight="bold" font-size="52" fill="#646569" textLength="232" lengthAdjust="spacingAndGlyphs">ТРАНЗИТ</text>
</g>

</svg>
</body></html>
